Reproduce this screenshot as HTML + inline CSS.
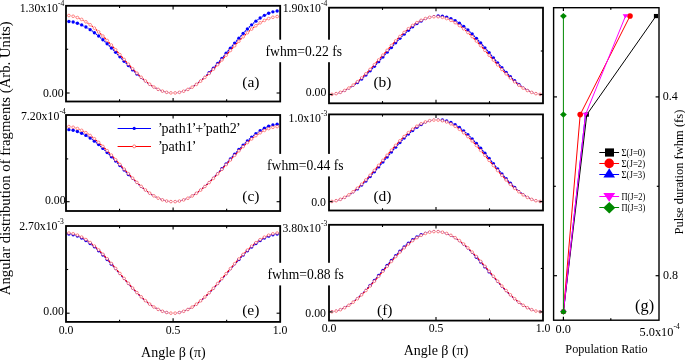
<!DOCTYPE html>
<html><head><meta charset="utf-8"><style>
html,body{margin:0;padding:0;background:#fff;width:685px;height:360px;overflow:hidden}
svg{display:block;font-family:"Liberation Serif",serif}
svg{will-change:transform}
</style></head><body>
<svg width="685" height="360" viewBox="0 0 685 360" font-family="Liberation Serif, serif" fill="#000">
<rect width="685" height="360" fill="#fff"/>
<g>
<path d="M70.93,21.74L71.12,21.77M75.13,22.61L75.42,22.69M79.31,23.98L79.74,24.15M83.48,25.82L84.07,26.12M87.65,28.12L88.40,28.58M91.82,30.84L92.73,31.49M96.00,33.96L97.05,34.79M100.19,37.42L101.36,38.44M104.39,41.20L105.66,42.38M108.61,45.22L109.94,46.54M112.83,49.45L114.22,50.86M117.07,53.81L118.48,55.28M121.32,58.24L122.73,59.73M125.58,62.68L126.97,64.13M129.85,67.06L131.20,68.42M134.13,71.30L135.42,72.54M138.42,75.33L139.63,76.42M142.73,79.10L143.82,80.01M147.05,82.53L148.00,83.24M151.38,85.56L152.17,86.07M155.71,88.13L156.34,88.46M160.05,90.19L160.50,90.37M164.38,91.69L164.67,91.77M168.68,92.61L168.87,92.63M172.95,92.93L173.10,92.93M177.18,92.65L177.37,92.62M181.37,91.79L181.68,91.71M185.54,90.37L186.01,90.17M189.70,88.39L190.35,88.03M193.85,85.89L194.70,85.32M198.01,82.89L199.04,82.07M202.17,79.43L203.38,78.35M206.36,75.53L207.69,74.21M210.55,71.27L212.00,69.72M214.76,66.68L216.29,64.95M218.98,61.85L220.57,59.98M223.21,56.84L224.84,54.89M227.46,51.73L229.09,49.75M231.71,46.60L233.34,44.66M235.98,41.53L237.57,39.69M240.27,36.60L241.78,34.91M244.56,31.90L245.99,30.42M248.88,27.51L250.17,26.26M253.20,23.50L254.35,22.51M257.54,19.94L258.51,19.22M261.89,16.91L262.66,16.43M266.25,14.45L266.80,14.18M270.59,12.63L270.96,12.51M274.91,11.47L275.14,11.43" fill="none" stroke="#00f" stroke-width="1.2"/>
<circle cx="68.90" cy="21.44" r="1.7" fill="#00f"/>
<circle cx="73.15" cy="22.07" r="1.7" fill="#00f"/>
<circle cx="77.40" cy="23.23" r="1.7" fill="#00f"/>
<circle cx="81.65" cy="24.90" r="1.7" fill="#00f"/>
<circle cx="85.90" cy="27.05" r="1.7" fill="#00f"/>
<circle cx="90.15" cy="29.66" r="1.7" fill="#00f"/>
<circle cx="94.40" cy="32.68" r="1.7" fill="#00f"/>
<circle cx="98.65" cy="36.07" r="1.7" fill="#00f"/>
<circle cx="102.90" cy="39.79" r="1.7" fill="#00f"/>
<circle cx="107.15" cy="43.78" r="1.7" fill="#00f"/>
<circle cx="111.40" cy="47.98" r="1.7" fill="#00f"/>
<circle cx="115.65" cy="52.33" r="1.7" fill="#00f"/>
<circle cx="119.90" cy="56.76" r="1.7" fill="#00f"/>
<circle cx="124.15" cy="61.21" r="1.7" fill="#00f"/>
<circle cx="128.40" cy="65.60" r="1.7" fill="#00f"/>
<circle cx="132.65" cy="69.88" r="1.7" fill="#00f"/>
<circle cx="136.90" cy="73.96" r="1.7" fill="#00f"/>
<circle cx="141.15" cy="77.80" r="1.15" fill="#00f"/>
<circle cx="145.40" cy="81.31" r="1.15" fill="#00f"/>
<circle cx="149.65" cy="84.46" r="1.15" fill="#00f"/>
<circle cx="153.90" cy="87.17" r="1.15" fill="#00f"/>
<circle cx="158.15" cy="89.42" r="1.15" fill="#00f"/>
<circle cx="162.40" cy="91.14" r="1.15" fill="#00f"/>
<circle cx="166.65" cy="92.32" r="1.15" fill="#00f"/>
<circle cx="170.90" cy="92.92" r="1.15" fill="#00f"/>
<circle cx="175.15" cy="92.93" r="1.15" fill="#00f"/>
<circle cx="179.40" cy="92.34" r="1.15" fill="#00f"/>
<circle cx="183.65" cy="91.15" r="1.15" fill="#00f"/>
<circle cx="187.90" cy="89.38" r="1.15" fill="#00f"/>
<circle cx="192.15" cy="87.04" r="1.15" fill="#00f"/>
<circle cx="196.40" cy="84.17" r="1.15" fill="#00f"/>
<circle cx="200.65" cy="80.80" r="1.15" fill="#00f"/>
<circle cx="204.90" cy="76.98" r="1.15" fill="#00f"/>
<circle cx="209.15" cy="72.76" r="1.7" fill="#00f"/>
<circle cx="213.40" cy="68.22" r="1.7" fill="#00f"/>
<circle cx="217.65" cy="63.41" r="1.7" fill="#00f"/>
<circle cx="221.90" cy="58.42" r="1.7" fill="#00f"/>
<circle cx="226.15" cy="53.31" r="1.7" fill="#00f"/>
<circle cx="230.40" cy="48.17" r="1.7" fill="#00f"/>
<circle cx="234.65" cy="43.09" r="1.7" fill="#00f"/>
<circle cx="238.90" cy="38.13" r="1.7" fill="#00f"/>
<circle cx="243.15" cy="33.39" r="1.7" fill="#00f"/>
<circle cx="247.40" cy="28.93" r="1.7" fill="#00f"/>
<circle cx="251.65" cy="24.84" r="1.7" fill="#00f"/>
<circle cx="255.90" cy="21.17" r="1.7" fill="#00f"/>
<circle cx="260.15" cy="17.99" r="1.7" fill="#00f"/>
<circle cx="264.40" cy="15.35" r="1.7" fill="#00f"/>
<circle cx="268.65" cy="13.29" r="1.7" fill="#00f"/>
<circle cx="272.90" cy="11.85" r="1.7" fill="#00f"/>
<circle cx="277.15" cy="11.05" r="1.7" fill="#00f"/>
<path d="M70.95,15.88L71.10,15.90M75.14,16.86L75.41,16.94M79.30,18.39L79.75,18.59M83.46,20.45L84.09,20.81M87.61,23.02L88.44,23.58M91.78,26.05L92.77,26.84M95.95,29.52L97.10,30.53M100.14,33.36L101.41,34.59M104.34,37.54L105.71,38.96M108.56,41.98L109.99,43.54M112.78,46.63L114.27,48.29M117.02,51.40L118.53,53.11M121.28,56.23L122.77,57.93M125.54,61.04L127.01,62.68M129.81,65.76L131.24,67.29M134.10,70.30L135.45,71.68M138.40,74.60L139.65,75.79M142.72,78.59L143.83,79.56M147.05,82.20L148.00,82.94M151.38,85.36L152.17,85.88M155.73,88.03L156.32,88.35M160.07,90.15L160.48,90.32M164.40,91.68L164.65,91.75M168.71,92.61L168.84,92.63M172.98,92.92L173.07,92.93M177.21,92.65L177.34,92.63M181.40,91.79L181.65,91.72M185.57,90.38L185.98,90.22M189.73,88.44L190.32,88.13M193.89,86.01L194.66,85.50M198.05,83.10L199.00,82.38M202.23,79.76L203.32,78.81M206.41,76.03L207.64,74.87M210.61,71.97L211.94,70.63M214.82,67.63L216.23,66.14M219.05,63.08L220.50,61.49M223.29,58.40L224.76,56.74M227.53,53.64L229.02,51.98M231.80,48.88L233.25,47.27M236.07,44.21L237.48,42.69M240.35,39.69L241.70,38.31M244.65,35.39L245.90,34.20M248.96,31.39L250.09,30.40M253.29,27.75L254.26,26.98M257.62,24.53L258.43,23.99M261.96,21.80L262.59,21.45M266.31,19.60L266.74,19.41M270.64,17.97L270.91,17.88M274.95,16.93L275.10,16.90" fill="none" stroke="#f00" stroke-width="1.2"/>
<circle cx="68.90" cy="15.53" r="1.35" fill="#fff" stroke="#f00" stroke-width="0.45"/>
<circle cx="73.15" cy="16.25" r="1.35" fill="#fff" stroke="#f00" stroke-width="0.45"/>
<circle cx="77.40" cy="17.55" r="1.35" fill="#fff" stroke="#f00" stroke-width="0.45"/>
<circle cx="81.65" cy="19.42" r="1.35" fill="#fff" stroke="#f00" stroke-width="0.45"/>
<circle cx="85.90" cy="21.84" r="1.35" fill="#fff" stroke="#f00" stroke-width="0.45"/>
<circle cx="90.15" cy="24.76" r="1.35" fill="#fff" stroke="#f00" stroke-width="0.45"/>
<circle cx="94.40" cy="28.13" r="1.35" fill="#fff" stroke="#f00" stroke-width="0.45"/>
<circle cx="98.65" cy="31.92" r="1.35" fill="#fff" stroke="#f00" stroke-width="0.45"/>
<circle cx="102.90" cy="36.04" r="1.35" fill="#fff" stroke="#f00" stroke-width="0.45"/>
<circle cx="107.15" cy="40.45" r="1.35" fill="#fff" stroke="#f00" stroke-width="0.45"/>
<circle cx="111.40" cy="45.08" r="1.35" fill="#fff" stroke="#f00" stroke-width="0.45"/>
<circle cx="115.65" cy="49.84" r="1.35" fill="#fff" stroke="#f00" stroke-width="0.45"/>
<circle cx="119.90" cy="54.67" r="1.35" fill="#fff" stroke="#f00" stroke-width="0.45"/>
<circle cx="124.15" cy="59.49" r="1.35" fill="#fff" stroke="#f00" stroke-width="0.45"/>
<circle cx="128.40" cy="64.23" r="1.35" fill="#fff" stroke="#f00" stroke-width="0.45"/>
<circle cx="132.65" cy="68.81" r="1.35" fill="#fff" stroke="#f00" stroke-width="0.45"/>
<circle cx="136.90" cy="73.17" r="1.35" fill="#fff" stroke="#f00" stroke-width="0.45"/>
<circle cx="141.15" cy="77.23" r="1.35" fill="#fff" stroke="#f00" stroke-width="0.45"/>
<circle cx="145.40" cy="80.93" r="1.35" fill="#fff" stroke="#f00" stroke-width="0.45"/>
<circle cx="149.65" cy="84.21" r="1.35" fill="#fff" stroke="#f00" stroke-width="0.45"/>
<circle cx="153.90" cy="87.04" r="1.35" fill="#fff" stroke="#f00" stroke-width="0.45"/>
<circle cx="158.15" cy="89.35" r="1.35" fill="#fff" stroke="#f00" stroke-width="0.45"/>
<circle cx="162.40" cy="91.11" r="1.35" fill="#fff" stroke="#f00" stroke-width="0.45"/>
<circle cx="166.65" cy="92.31" r="1.35" fill="#fff" stroke="#f00" stroke-width="0.45"/>
<circle cx="170.90" cy="92.92" r="1.35" fill="#fff" stroke="#f00" stroke-width="0.45"/>
<circle cx="175.15" cy="92.93" r="1.35" fill="#fff" stroke="#f00" stroke-width="0.45"/>
<circle cx="179.40" cy="92.34" r="1.35" fill="#fff" stroke="#f00" stroke-width="0.45"/>
<circle cx="183.65" cy="91.17" r="1.35" fill="#fff" stroke="#f00" stroke-width="0.45"/>
<circle cx="187.90" cy="89.43" r="1.35" fill="#fff" stroke="#f00" stroke-width="0.45"/>
<circle cx="192.15" cy="87.15" r="1.35" fill="#fff" stroke="#f00" stroke-width="0.45"/>
<circle cx="196.40" cy="84.36" r="1.35" fill="#fff" stroke="#f00" stroke-width="0.45"/>
<circle cx="200.65" cy="81.11" r="1.35" fill="#fff" stroke="#f00" stroke-width="0.45"/>
<circle cx="204.90" cy="77.46" r="1.35" fill="#fff" stroke="#f00" stroke-width="0.45"/>
<circle cx="209.15" cy="73.45" r="1.35" fill="#fff" stroke="#f00" stroke-width="0.45"/>
<circle cx="213.40" cy="69.15" r="1.35" fill="#fff" stroke="#f00" stroke-width="0.45"/>
<circle cx="217.65" cy="64.62" r="1.35" fill="#fff" stroke="#f00" stroke-width="0.45"/>
<circle cx="221.90" cy="59.95" r="1.35" fill="#fff" stroke="#f00" stroke-width="0.45"/>
<circle cx="226.15" cy="55.19" r="1.35" fill="#fff" stroke="#f00" stroke-width="0.45"/>
<circle cx="230.40" cy="50.43" r="1.35" fill="#fff" stroke="#f00" stroke-width="0.45"/>
<circle cx="234.65" cy="45.73" r="1.35" fill="#fff" stroke="#f00" stroke-width="0.45"/>
<circle cx="238.90" cy="41.17" r="1.35" fill="#fff" stroke="#f00" stroke-width="0.45"/>
<circle cx="243.15" cy="36.83" r="1.35" fill="#fff" stroke="#f00" stroke-width="0.45"/>
<circle cx="247.40" cy="32.76" r="1.35" fill="#fff" stroke="#f00" stroke-width="0.45"/>
<circle cx="251.65" cy="29.03" r="1.35" fill="#fff" stroke="#f00" stroke-width="0.45"/>
<circle cx="255.90" cy="25.70" r="1.35" fill="#fff" stroke="#f00" stroke-width="0.45"/>
<circle cx="260.15" cy="22.82" r="1.35" fill="#fff" stroke="#f00" stroke-width="0.45"/>
<circle cx="264.40" cy="20.43" r="1.35" fill="#fff" stroke="#f00" stroke-width="0.45"/>
<circle cx="268.65" cy="18.57" r="1.35" fill="#fff" stroke="#f00" stroke-width="0.45"/>
<circle cx="272.90" cy="17.28" r="1.35" fill="#fff" stroke="#f00" stroke-width="0.45"/>
<circle cx="277.15" cy="16.56" r="1.35" fill="#fff" stroke="#f00" stroke-width="0.45"/>
</g>
<rect x="66" y="5.8" width="214.2" height="95.70" fill="none" stroke="#000" stroke-width="1.8"/>
<line x1="119.55" y1="5.8" x2="119.55" y2="8.0" stroke="#000" stroke-width="1.1"/>
<line x1="119.55" y1="101.5" x2="119.55" y2="99.3" stroke="#000" stroke-width="1.1"/>
<line x1="173.10" y1="5.8" x2="173.10" y2="9.4" stroke="#000" stroke-width="1.1"/>
<line x1="173.10" y1="101.5" x2="173.10" y2="97.9" stroke="#000" stroke-width="1.1"/>
<line x1="226.65" y1="5.8" x2="226.65" y2="8.0" stroke="#000" stroke-width="1.1"/>
<line x1="226.65" y1="101.5" x2="226.65" y2="99.3" stroke="#000" stroke-width="1.1"/>
<line x1="66" y1="93.00" x2="69.6" y2="93.00" stroke="#000" stroke-width="1.1"/>
<line x1="280.2" y1="93.00" x2="276.59999999999997" y2="93.00" stroke="#000" stroke-width="1.1"/>
<line x1="66" y1="49.25" x2="68.2" y2="49.25" stroke="#000" stroke-width="1.1"/>
<line x1="280.2" y1="49.25" x2="278.0" y2="49.25" stroke="#000" stroke-width="1.1"/>
<g>
<path d="M70.93,129.97L71.12,130.00M75.12,130.86L75.43,130.95M79.30,132.26L79.75,132.44M83.47,134.14L84.08,134.46M87.64,136.49L88.41,136.98M91.81,139.27L92.74,139.95M95.99,142.45L97.06,143.32M100.18,145.98L101.37,147.04M104.38,149.81L105.67,151.04M108.60,153.90L109.95,155.26M112.82,158.19L114.23,159.64M117.06,162.60L118.49,164.10M121.31,167.07L122.74,168.58M125.57,171.54L126.98,173.01M129.84,175.94L131.21,177.31M134.13,180.19L135.42,181.43M138.42,184.22L139.63,185.30M142.73,187.98L143.82,188.87M147.05,191.38L148.00,192.08M151.38,194.38L152.17,194.88M155.72,196.92L156.33,197.24M160.05,198.94L160.50,199.12M164.38,200.42L164.67,200.50M168.68,201.32L168.87,201.34M172.95,201.63L173.10,201.63M177.18,201.36L177.37,201.33M181.38,200.53L181.67,200.45M185.55,199.14L186.00,198.96M189.71,197.24L190.34,196.91M193.87,194.83L194.68,194.30M198.03,191.95L199.02,191.20M202.21,188.62L203.34,187.64M206.39,184.90L207.66,183.70M210.59,180.83L211.96,179.43M214.80,176.47L216.25,174.91M219.02,171.88L220.53,170.20M223.26,167.14L224.79,165.39M227.50,162.31L229.05,160.55M231.76,157.48L233.29,155.75M236.03,152.70L237.52,151.08M240.32,148.08L241.73,146.59M244.61,143.67L245.94,142.37M248.92,139.56L250.13,138.47M253.25,135.81L254.30,134.95M257.58,132.49L258.47,131.87M261.92,129.67L262.63,129.26M266.27,127.39L266.78,127.15M270.60,125.69L270.95,125.59M274.92,124.61L275.13,124.58" fill="none" stroke="#00f" stroke-width="1.2"/>
<circle cx="68.90" cy="129.66" r="1.7" fill="#00f"/>
<circle cx="73.15" cy="130.31" r="1.7" fill="#00f"/>
<circle cx="77.40" cy="131.50" r="1.7" fill="#00f"/>
<circle cx="81.65" cy="133.20" r="1.7" fill="#00f"/>
<circle cx="85.90" cy="135.40" r="1.7" fill="#00f"/>
<circle cx="90.15" cy="138.07" r="1.7" fill="#00f"/>
<circle cx="94.40" cy="141.15" r="1.7" fill="#00f"/>
<circle cx="98.65" cy="144.61" r="1.7" fill="#00f"/>
<circle cx="102.90" cy="148.40" r="1.7" fill="#00f"/>
<circle cx="107.15" cy="152.45" r="1.7" fill="#00f"/>
<circle cx="111.40" cy="156.71" r="1.7" fill="#00f"/>
<circle cx="115.65" cy="161.11" r="1.7" fill="#00f"/>
<circle cx="119.90" cy="165.59" r="1.7" fill="#00f"/>
<circle cx="124.15" cy="170.07" r="1.7" fill="#00f"/>
<circle cx="128.40" cy="174.48" r="1.7" fill="#00f"/>
<circle cx="132.65" cy="178.77" r="1.15" fill="#00f"/>
<circle cx="136.90" cy="182.85" r="1.15" fill="#00f"/>
<circle cx="141.15" cy="186.67" r="1.15" fill="#00f"/>
<circle cx="145.40" cy="190.17" r="1.15" fill="#00f"/>
<circle cx="149.65" cy="193.29" r="1.15" fill="#00f"/>
<circle cx="153.90" cy="195.97" r="1.15" fill="#00f"/>
<circle cx="158.15" cy="198.18" r="1.15" fill="#00f"/>
<circle cx="162.40" cy="199.88" r="1.15" fill="#00f"/>
<circle cx="166.65" cy="201.03" r="1.15" fill="#00f"/>
<circle cx="170.90" cy="201.62" r="1.15" fill="#00f"/>
<circle cx="175.15" cy="201.63" r="1.15" fill="#00f"/>
<circle cx="179.40" cy="201.06" r="1.15" fill="#00f"/>
<circle cx="183.65" cy="199.91" r="1.15" fill="#00f"/>
<circle cx="187.90" cy="198.20" r="1.15" fill="#00f"/>
<circle cx="192.15" cy="195.95" r="1.15" fill="#00f"/>
<circle cx="196.40" cy="193.19" r="1.15" fill="#00f"/>
<circle cx="200.65" cy="189.96" r="1.15" fill="#00f"/>
<circle cx="204.90" cy="186.31" r="1.15" fill="#00f"/>
<circle cx="209.15" cy="182.29" r="1.15" fill="#00f"/>
<circle cx="213.40" cy="177.97" r="1.15" fill="#00f"/>
<circle cx="217.65" cy="173.41" r="1.15" fill="#00f"/>
<circle cx="221.90" cy="168.68" r="1.7" fill="#00f"/>
<circle cx="226.15" cy="163.85" r="1.7" fill="#00f"/>
<circle cx="230.40" cy="159.01" r="1.7" fill="#00f"/>
<circle cx="234.65" cy="154.22" r="1.7" fill="#00f"/>
<circle cx="238.90" cy="149.56" r="1.7" fill="#00f"/>
<circle cx="243.15" cy="145.11" r="1.7" fill="#00f"/>
<circle cx="247.40" cy="140.93" r="1.7" fill="#00f"/>
<circle cx="251.65" cy="137.10" r="1.7" fill="#00f"/>
<circle cx="255.90" cy="133.67" r="1.7" fill="#00f"/>
<circle cx="260.15" cy="130.70" r="1.7" fill="#00f"/>
<circle cx="264.40" cy="128.23" r="1.7" fill="#00f"/>
<circle cx="268.65" cy="126.31" r="1.7" fill="#00f"/>
<circle cx="272.90" cy="124.97" r="1.7" fill="#00f"/>
<circle cx="277.15" cy="124.22" r="1.7" fill="#00f"/>
<path d="M70.95,126.91L71.10,126.94M75.14,127.86L75.41,127.94M79.31,129.34L79.74,129.52M83.47,131.34L84.08,131.67M87.63,133.82L88.42,134.35M91.80,136.76L92.75,137.50M95.98,140.12L97.07,141.06M100.17,143.85L101.38,144.99M104.37,147.89L105.68,149.21M108.58,152.19L109.97,153.65M112.81,156.69L114.24,158.25M117.05,161.32L118.50,162.92M121.30,166.00L122.75,167.59M125.56,170.66L126.99,172.20M129.84,175.23L131.21,176.67M134.12,179.64L135.43,180.94M138.42,183.82L139.63,184.93M142.74,187.69L143.81,188.60M147.06,191.20L147.99,191.89M151.40,194.27L152.15,194.76M155.74,196.86L156.31,197.17M160.08,198.92L160.47,199.08M164.41,200.41L164.64,200.48M168.71,201.32L168.84,201.33M172.98,201.63L173.07,201.63M177.21,201.35L177.34,201.34M181.41,200.52L181.64,200.45M185.58,199.14L185.97,198.98M189.74,197.24L190.31,196.94M193.90,194.85L194.65,194.37M198.07,192.00L198.98,191.31M202.24,188.73L203.31,187.82M206.43,185.07L207.62,183.96M210.63,181.08L211.92,179.80M214.84,176.83L216.21,175.39M219.06,172.36L220.49,170.82M223.30,167.76L224.75,166.16M227.55,163.08L229.00,161.48M231.81,158.41L233.24,156.85M236.08,153.81L237.47,152.35M240.37,149.36L241.68,148.04M244.66,145.14L245.89,143.98M248.97,141.20L250.08,140.24M253.30,137.61L254.25,136.88M257.63,134.45L258.42,133.92M261.97,131.76L262.58,131.42M266.31,129.59L266.74,129.41M270.64,127.98L270.91,127.90M274.95,126.96L275.10,126.94" fill="none" stroke="#f00" stroke-width="1.2"/>
<circle cx="68.90" cy="126.58" r="1.35" fill="#fff" stroke="#f00" stroke-width="0.45"/>
<circle cx="73.15" cy="127.27" r="1.35" fill="#fff" stroke="#f00" stroke-width="0.45"/>
<circle cx="77.40" cy="128.53" r="1.35" fill="#fff" stroke="#f00" stroke-width="0.45"/>
<circle cx="81.65" cy="130.34" r="1.35" fill="#fff" stroke="#f00" stroke-width="0.45"/>
<circle cx="85.90" cy="132.67" r="1.35" fill="#fff" stroke="#f00" stroke-width="0.45"/>
<circle cx="90.15" cy="135.50" r="1.35" fill="#fff" stroke="#f00" stroke-width="0.45"/>
<circle cx="94.40" cy="138.76" r="1.35" fill="#fff" stroke="#f00" stroke-width="0.45"/>
<circle cx="98.65" cy="142.42" r="1.35" fill="#fff" stroke="#f00" stroke-width="0.45"/>
<circle cx="102.90" cy="146.42" r="1.35" fill="#fff" stroke="#f00" stroke-width="0.45"/>
<circle cx="107.15" cy="150.68" r="1.35" fill="#fff" stroke="#f00" stroke-width="0.45"/>
<circle cx="111.40" cy="155.16" r="1.35" fill="#fff" stroke="#f00" stroke-width="0.45"/>
<circle cx="115.65" cy="159.78" r="1.35" fill="#fff" stroke="#f00" stroke-width="0.45"/>
<circle cx="119.90" cy="164.46" r="1.35" fill="#fff" stroke="#f00" stroke-width="0.45"/>
<circle cx="124.15" cy="169.13" r="1.35" fill="#fff" stroke="#f00" stroke-width="0.45"/>
<circle cx="128.40" cy="173.73" r="1.35" fill="#fff" stroke="#f00" stroke-width="0.45"/>
<circle cx="132.65" cy="178.18" r="1.35" fill="#fff" stroke="#f00" stroke-width="0.45"/>
<circle cx="136.90" cy="182.41" r="1.35" fill="#fff" stroke="#f00" stroke-width="0.45"/>
<circle cx="141.15" cy="186.35" r="1.35" fill="#fff" stroke="#f00" stroke-width="0.45"/>
<circle cx="145.40" cy="189.95" r="1.35" fill="#fff" stroke="#f00" stroke-width="0.45"/>
<circle cx="149.65" cy="193.14" r="1.35" fill="#fff" stroke="#f00" stroke-width="0.45"/>
<circle cx="153.90" cy="195.89" r="1.35" fill="#fff" stroke="#f00" stroke-width="0.45"/>
<circle cx="158.15" cy="198.14" r="1.35" fill="#fff" stroke="#f00" stroke-width="0.45"/>
<circle cx="162.40" cy="199.86" r="1.35" fill="#fff" stroke="#f00" stroke-width="0.45"/>
<circle cx="166.65" cy="201.03" r="1.35" fill="#fff" stroke="#f00" stroke-width="0.45"/>
<circle cx="170.90" cy="201.62" r="1.35" fill="#fff" stroke="#f00" stroke-width="0.45"/>
<circle cx="175.15" cy="201.63" r="1.35" fill="#fff" stroke="#f00" stroke-width="0.45"/>
<circle cx="179.40" cy="201.06" r="1.35" fill="#fff" stroke="#f00" stroke-width="0.45"/>
<circle cx="183.65" cy="199.91" r="1.35" fill="#fff" stroke="#f00" stroke-width="0.45"/>
<circle cx="187.90" cy="198.21" r="1.35" fill="#fff" stroke="#f00" stroke-width="0.45"/>
<circle cx="192.15" cy="195.98" r="1.35" fill="#fff" stroke="#f00" stroke-width="0.45"/>
<circle cx="196.40" cy="193.25" r="1.35" fill="#fff" stroke="#f00" stroke-width="0.45"/>
<circle cx="200.65" cy="190.07" r="1.35" fill="#fff" stroke="#f00" stroke-width="0.45"/>
<circle cx="204.90" cy="186.48" r="1.35" fill="#fff" stroke="#f00" stroke-width="0.45"/>
<circle cx="209.15" cy="182.55" r="1.35" fill="#fff" stroke="#f00" stroke-width="0.45"/>
<circle cx="213.40" cy="178.33" r="1.35" fill="#fff" stroke="#f00" stroke-width="0.45"/>
<circle cx="217.65" cy="173.89" r="1.35" fill="#fff" stroke="#f00" stroke-width="0.45"/>
<circle cx="221.90" cy="169.30" r="1.35" fill="#fff" stroke="#f00" stroke-width="0.45"/>
<circle cx="226.15" cy="164.62" r="1.35" fill="#fff" stroke="#f00" stroke-width="0.45"/>
<circle cx="230.40" cy="159.94" r="1.35" fill="#fff" stroke="#f00" stroke-width="0.45"/>
<circle cx="234.65" cy="155.32" r="1.35" fill="#fff" stroke="#f00" stroke-width="0.45"/>
<circle cx="238.90" cy="150.84" r="1.35" fill="#fff" stroke="#f00" stroke-width="0.45"/>
<circle cx="243.15" cy="146.56" r="1.35" fill="#fff" stroke="#f00" stroke-width="0.45"/>
<circle cx="247.40" cy="142.56" r="1.35" fill="#fff" stroke="#f00" stroke-width="0.45"/>
<circle cx="251.65" cy="138.89" r="1.35" fill="#fff" stroke="#f00" stroke-width="0.45"/>
<circle cx="255.90" cy="135.60" r="1.35" fill="#fff" stroke="#f00" stroke-width="0.45"/>
<circle cx="260.15" cy="132.77" r="1.35" fill="#fff" stroke="#f00" stroke-width="0.45"/>
<circle cx="264.40" cy="130.41" r="1.35" fill="#fff" stroke="#f00" stroke-width="0.45"/>
<circle cx="268.65" cy="128.58" r="1.35" fill="#fff" stroke="#f00" stroke-width="0.45"/>
<circle cx="272.90" cy="127.30" r="1.35" fill="#fff" stroke="#f00" stroke-width="0.45"/>
<circle cx="277.15" cy="126.59" r="1.35" fill="#fff" stroke="#f00" stroke-width="0.45"/>
</g>
<rect x="66" y="115" width="214.2" height="96.00" fill="none" stroke="#000" stroke-width="1.8"/>
<line x1="119.55" y1="115" x2="119.55" y2="117.2" stroke="#000" stroke-width="1.1"/>
<line x1="119.55" y1="211" x2="119.55" y2="208.8" stroke="#000" stroke-width="1.1"/>
<line x1="173.10" y1="115" x2="173.10" y2="118.6" stroke="#000" stroke-width="1.1"/>
<line x1="173.10" y1="211" x2="173.10" y2="207.4" stroke="#000" stroke-width="1.1"/>
<line x1="226.65" y1="115" x2="226.65" y2="117.2" stroke="#000" stroke-width="1.1"/>
<line x1="226.65" y1="211" x2="226.65" y2="208.8" stroke="#000" stroke-width="1.1"/>
<line x1="66" y1="201.70" x2="69.6" y2="201.70" stroke="#000" stroke-width="1.1"/>
<line x1="280.2" y1="201.70" x2="276.59999999999997" y2="201.70" stroke="#000" stroke-width="1.1"/>
<line x1="66" y1="158.90" x2="68.2" y2="158.90" stroke="#000" stroke-width="1.1"/>
<line x1="280.2" y1="158.90" x2="278.0" y2="158.90" stroke="#000" stroke-width="1.1"/>
<g>
<path d="M70.92,234.38L71.13,234.42M75.11,235.37L75.44,235.48M79.27,236.93L79.78,237.16M83.42,239.03L84.13,239.43M87.58,241.63L88.47,242.26M91.74,244.72L92.81,245.58M95.92,248.25L97.13,249.35M100.11,252.17L101.44,253.50M104.31,256.43L105.74,257.95M108.52,260.96L110.03,262.63M112.75,265.70L114.30,267.48M116.99,270.57L118.56,272.40M121.24,275.51L122.81,277.33M125.50,280.42L127.05,282.18M129.78,285.24L131.27,286.89M134.06,289.90L135.49,291.38M138.37,294.30L139.68,295.59M142.68,298.39L143.87,299.45M147.01,302.09L148.04,302.91M151.34,305.34L152.21,305.92M155.69,308.07L156.36,308.45M160.04,310.25L160.51,310.46M164.37,311.83L164.68,311.92M168.68,312.79L168.87,312.82M172.95,313.12L173.10,313.12M177.18,312.84L177.37,312.81M181.37,311.96L181.68,311.88M185.54,310.52L186.01,310.32M189.69,308.53L190.36,308.16M193.85,306.02L194.70,305.44M198.01,303.02L199.04,302.21M202.18,299.58L203.37,298.53M206.37,295.73L207.68,294.45M210.57,291.54L211.98,290.06M214.78,287.06L216.27,285.41M219.00,282.35L220.55,280.59M223.24,277.50L224.81,275.68M227.49,272.57L229.06,270.75M231.75,267.65L233.30,265.87M236.02,262.80L237.53,261.13M240.31,258.11L241.74,256.59M244.60,253.65L245.95,252.32M248.92,249.49L250.13,248.38M253.24,245.71L254.31,244.84M257.58,242.37L258.47,241.74M261.92,239.52L262.63,239.11M266.27,237.23L266.78,236.99M270.60,235.53L270.95,235.42M274.92,234.44L275.13,234.41" fill="none" stroke="#00f" stroke-width="1.2"/>
<circle cx="68.90" cy="234.04" r="1.7" fill="#00f"/>
<circle cx="73.15" cy="234.76" r="1.7" fill="#00f"/>
<circle cx="77.40" cy="236.09" r="1.7" fill="#00f"/>
<circle cx="81.65" cy="238.00" r="1.7" fill="#00f"/>
<circle cx="85.90" cy="240.46" r="1.7" fill="#00f"/>
<circle cx="90.15" cy="243.43" r="1.7" fill="#00f"/>
<circle cx="94.40" cy="246.87" r="1.7" fill="#00f"/>
<circle cx="98.65" cy="250.73" r="1.7" fill="#00f"/>
<circle cx="102.90" cy="254.94" r="1.7" fill="#00f"/>
<circle cx="107.15" cy="259.44" r="1.7" fill="#00f"/>
<circle cx="111.40" cy="264.16" r="1.7" fill="#00f"/>
<circle cx="115.65" cy="269.02" r="1.15" fill="#00f"/>
<circle cx="119.90" cy="273.95" r="1.15" fill="#00f"/>
<circle cx="124.15" cy="278.88" r="1.15" fill="#00f"/>
<circle cx="128.40" cy="283.73" r="1.15" fill="#00f"/>
<circle cx="132.65" cy="288.41" r="1.15" fill="#00f"/>
<circle cx="136.90" cy="292.87" r="1.15" fill="#00f"/>
<circle cx="141.15" cy="297.02" r="1.15" fill="#00f"/>
<circle cx="145.40" cy="300.81" r="1.15" fill="#00f"/>
<circle cx="149.65" cy="304.18" r="1.15" fill="#00f"/>
<circle cx="153.90" cy="307.08" r="1.15" fill="#00f"/>
<circle cx="158.15" cy="309.45" r="1.15" fill="#00f"/>
<circle cx="162.40" cy="311.26" r="1.15" fill="#00f"/>
<circle cx="166.65" cy="312.49" r="1.15" fill="#00f"/>
<circle cx="170.90" cy="313.12" r="1.15" fill="#00f"/>
<circle cx="175.15" cy="313.13" r="1.15" fill="#00f"/>
<circle cx="179.40" cy="312.52" r="1.15" fill="#00f"/>
<circle cx="183.65" cy="311.32" r="1.15" fill="#00f"/>
<circle cx="187.90" cy="309.52" r="1.15" fill="#00f"/>
<circle cx="192.15" cy="307.17" r="1.15" fill="#00f"/>
<circle cx="196.40" cy="304.29" r="1.15" fill="#00f"/>
<circle cx="200.65" cy="300.94" r="1.15" fill="#00f"/>
<circle cx="204.90" cy="297.16" r="1.15" fill="#00f"/>
<circle cx="209.15" cy="293.02" r="1.15" fill="#00f"/>
<circle cx="213.40" cy="288.57" r="1.15" fill="#00f"/>
<circle cx="217.65" cy="283.89" r="1.15" fill="#00f"/>
<circle cx="221.90" cy="279.05" r="1.15" fill="#00f"/>
<circle cx="226.15" cy="274.13" r="1.15" fill="#00f"/>
<circle cx="230.40" cy="269.19" r="1.15" fill="#00f"/>
<circle cx="234.65" cy="264.33" r="1.15" fill="#00f"/>
<circle cx="238.90" cy="259.60" r="1.7" fill="#00f"/>
<circle cx="243.15" cy="255.09" r="1.7" fill="#00f"/>
<circle cx="247.40" cy="250.87" r="1.7" fill="#00f"/>
<circle cx="251.65" cy="247.00" r="1.7" fill="#00f"/>
<circle cx="255.90" cy="243.55" r="1.7" fill="#00f"/>
<circle cx="260.15" cy="240.56" r="1.7" fill="#00f"/>
<circle cx="264.40" cy="238.08" r="1.7" fill="#00f"/>
<circle cx="268.65" cy="236.15" r="1.7" fill="#00f"/>
<circle cx="272.90" cy="234.80" r="1.7" fill="#00f"/>
<circle cx="277.15" cy="234.05" r="1.7" fill="#00f"/>
<path d="M70.95,233.42L71.10,233.45M75.13,234.43L75.42,234.52M79.29,236.01L79.76,236.22M83.44,238.13L84.11,238.52M87.60,240.77L88.45,241.38M91.76,243.90L92.79,244.74M95.93,247.47L97.12,248.56M100.12,251.44L101.43,252.75M104.32,255.75L105.73,257.26M108.53,260.33L110.02,262.00M112.76,265.13L114.29,266.90M117.00,270.06L118.55,271.89M121.25,275.06L122.80,276.88M125.51,280.03L127.04,281.79M129.79,284.91L131.26,286.56M134.08,289.62L135.47,291.10M138.38,294.08L139.67,295.36M142.69,298.22L143.86,299.27M147.02,301.96L148.03,302.77M151.36,305.25L152.19,305.82M155.71,308.02L156.34,308.38M160.06,310.23L160.49,310.41M164.40,311.82L164.65,311.90M168.71,312.79L168.84,312.81M172.98,313.12L173.07,313.12M177.21,312.83L177.34,312.81M181.40,311.94L181.65,311.87M185.56,310.48L185.99,310.29M189.71,308.46L190.34,308.11M193.87,305.92L194.68,305.36M198.03,302.89L199.02,302.09M202.20,299.40L203.35,298.36M206.38,295.51L207.67,294.23M210.58,291.26L211.97,289.78M214.79,286.72L216.26,285.08M219.01,281.96L220.54,280.21M223.25,277.05L224.80,275.23M227.50,272.07L229.05,270.24M231.76,267.08L233.29,265.30M236.03,262.17L237.52,260.50M240.32,257.42L241.73,255.91M244.62,252.91L245.93,251.58M248.93,248.70L250.12,247.60M253.26,244.87L254.29,244.02M257.59,241.49L258.46,240.87M261.94,238.61L262.61,238.21M266.29,236.29L266.76,236.07M270.63,234.57L270.92,234.47M274.95,233.47L275.10,233.45" fill="none" stroke="#f00" stroke-width="1.2"/>
<circle cx="68.90" cy="233.07" r="1.35" fill="#fff" stroke="#f00" stroke-width="0.45"/>
<circle cx="73.15" cy="233.80" r="1.35" fill="#fff" stroke="#f00" stroke-width="0.45"/>
<circle cx="77.40" cy="235.14" r="1.35" fill="#fff" stroke="#f00" stroke-width="0.45"/>
<circle cx="81.65" cy="237.08" r="1.35" fill="#fff" stroke="#f00" stroke-width="0.45"/>
<circle cx="85.90" cy="239.57" r="1.35" fill="#fff" stroke="#f00" stroke-width="0.45"/>
<circle cx="90.15" cy="242.58" r="1.35" fill="#fff" stroke="#f00" stroke-width="0.45"/>
<circle cx="94.40" cy="246.06" r="1.35" fill="#fff" stroke="#f00" stroke-width="0.45"/>
<circle cx="98.65" cy="249.97" r="1.35" fill="#fff" stroke="#f00" stroke-width="0.45"/>
<circle cx="102.90" cy="254.23" r="1.35" fill="#fff" stroke="#f00" stroke-width="0.45"/>
<circle cx="107.15" cy="258.78" r="1.35" fill="#fff" stroke="#f00" stroke-width="0.45"/>
<circle cx="111.40" cy="263.56" r="1.35" fill="#fff" stroke="#f00" stroke-width="0.45"/>
<circle cx="115.65" cy="268.48" r="1.35" fill="#fff" stroke="#f00" stroke-width="0.45"/>
<circle cx="119.90" cy="273.47" r="1.35" fill="#fff" stroke="#f00" stroke-width="0.45"/>
<circle cx="124.15" cy="278.46" r="1.35" fill="#fff" stroke="#f00" stroke-width="0.45"/>
<circle cx="128.40" cy="283.36" r="1.35" fill="#fff" stroke="#f00" stroke-width="0.45"/>
<circle cx="132.65" cy="288.11" r="1.35" fill="#fff" stroke="#f00" stroke-width="0.45"/>
<circle cx="136.90" cy="292.62" r="1.35" fill="#fff" stroke="#f00" stroke-width="0.45"/>
<circle cx="141.15" cy="296.83" r="1.35" fill="#fff" stroke="#f00" stroke-width="0.45"/>
<circle cx="145.40" cy="300.66" r="1.35" fill="#fff" stroke="#f00" stroke-width="0.45"/>
<circle cx="149.65" cy="304.07" r="1.35" fill="#fff" stroke="#f00" stroke-width="0.45"/>
<circle cx="153.90" cy="307.00" r="1.35" fill="#fff" stroke="#f00" stroke-width="0.45"/>
<circle cx="158.15" cy="309.40" r="1.35" fill="#fff" stroke="#f00" stroke-width="0.45"/>
<circle cx="162.40" cy="311.24" r="1.35" fill="#fff" stroke="#f00" stroke-width="0.45"/>
<circle cx="166.65" cy="312.48" r="1.35" fill="#fff" stroke="#f00" stroke-width="0.45"/>
<circle cx="170.90" cy="313.12" r="1.35" fill="#fff" stroke="#f00" stroke-width="0.45"/>
<circle cx="175.15" cy="313.13" r="1.35" fill="#fff" stroke="#f00" stroke-width="0.45"/>
<circle cx="179.40" cy="312.52" r="1.35" fill="#fff" stroke="#f00" stroke-width="0.45"/>
<circle cx="183.65" cy="311.29" r="1.35" fill="#fff" stroke="#f00" stroke-width="0.45"/>
<circle cx="187.90" cy="309.48" r="1.35" fill="#fff" stroke="#f00" stroke-width="0.45"/>
<circle cx="192.15" cy="307.09" r="1.35" fill="#fff" stroke="#f00" stroke-width="0.45"/>
<circle cx="196.40" cy="304.18" r="1.35" fill="#fff" stroke="#f00" stroke-width="0.45"/>
<circle cx="200.65" cy="300.79" r="1.35" fill="#fff" stroke="#f00" stroke-width="0.45"/>
<circle cx="204.90" cy="296.97" r="1.35" fill="#fff" stroke="#f00" stroke-width="0.45"/>
<circle cx="209.15" cy="292.77" r="1.35" fill="#fff" stroke="#f00" stroke-width="0.45"/>
<circle cx="213.40" cy="288.27" r="1.35" fill="#fff" stroke="#f00" stroke-width="0.45"/>
<circle cx="217.65" cy="283.53" r="1.35" fill="#fff" stroke="#f00" stroke-width="0.45"/>
<circle cx="221.90" cy="278.64" r="1.35" fill="#fff" stroke="#f00" stroke-width="0.45"/>
<circle cx="226.15" cy="273.65" r="1.35" fill="#fff" stroke="#f00" stroke-width="0.45"/>
<circle cx="230.40" cy="268.65" r="1.35" fill="#fff" stroke="#f00" stroke-width="0.45"/>
<circle cx="234.65" cy="263.73" r="1.35" fill="#fff" stroke="#f00" stroke-width="0.45"/>
<circle cx="238.90" cy="258.95" r="1.35" fill="#fff" stroke="#f00" stroke-width="0.45"/>
<circle cx="243.15" cy="254.38" r="1.35" fill="#fff" stroke="#f00" stroke-width="0.45"/>
<circle cx="247.40" cy="250.11" r="1.35" fill="#fff" stroke="#f00" stroke-width="0.45"/>
<circle cx="251.65" cy="246.19" r="1.35" fill="#fff" stroke="#f00" stroke-width="0.45"/>
<circle cx="255.90" cy="242.69" r="1.35" fill="#fff" stroke="#f00" stroke-width="0.45"/>
<circle cx="260.15" cy="239.67" r="1.35" fill="#fff" stroke="#f00" stroke-width="0.45"/>
<circle cx="264.40" cy="237.16" r="1.35" fill="#fff" stroke="#f00" stroke-width="0.45"/>
<circle cx="268.65" cy="235.20" r="1.35" fill="#fff" stroke="#f00" stroke-width="0.45"/>
<circle cx="272.90" cy="233.84" r="1.35" fill="#fff" stroke="#f00" stroke-width="0.45"/>
<circle cx="277.15" cy="233.08" r="1.35" fill="#fff" stroke="#f00" stroke-width="0.45"/>
</g>
<rect x="66" y="226" width="214.2" height="95.90" fill="none" stroke="#000" stroke-width="1.8"/>
<line x1="119.55" y1="226" x2="119.55" y2="228.2" stroke="#000" stroke-width="1.1"/>
<line x1="119.55" y1="321.9" x2="119.55" y2="319.7" stroke="#000" stroke-width="1.1"/>
<line x1="173.10" y1="226" x2="173.10" y2="229.6" stroke="#000" stroke-width="1.1"/>
<line x1="173.10" y1="321.9" x2="173.10" y2="318.29999999999995" stroke="#000" stroke-width="1.1"/>
<line x1="226.65" y1="226" x2="226.65" y2="228.2" stroke="#000" stroke-width="1.1"/>
<line x1="226.65" y1="321.9" x2="226.65" y2="319.7" stroke="#000" stroke-width="1.1"/>
<line x1="66" y1="313.20" x2="69.6" y2="313.20" stroke="#000" stroke-width="1.1"/>
<line x1="280.2" y1="313.20" x2="276.59999999999997" y2="313.20" stroke="#000" stroke-width="1.1"/>
<line x1="66" y1="269.50" x2="68.2" y2="269.50" stroke="#000" stroke-width="1.1"/>
<line x1="280.2" y1="269.50" x2="278.0" y2="269.50" stroke="#000" stroke-width="1.1"/>
<g>
<path d="M333.93,94.05L334.12,94.02M338.12,93.14L338.43,93.05M342.29,91.70L342.76,91.51M346.46,89.77L347.09,89.43M350.62,87.35L351.43,86.83M354.79,84.49L355.76,83.76M358.97,81.20L360.08,80.26M363.15,77.54L364.40,76.39M367.35,73.55L368.70,72.21M371.56,69.28L372.99,67.79M375.79,64.79L377.26,63.18M380.02,60.15L381.53,58.46M384.26,55.40L385.79,53.70M388.52,50.64L390.03,48.96M392.79,45.92L394.26,44.31M397.07,41.32L398.48,39.84M401.36,36.91L402.69,35.59M405.66,32.76L406.89,31.63M409.98,28.94L411.07,28.03M414.31,25.51L415.24,24.82M418.64,22.54L419.41,22.07M422.99,20.08L423.56,19.79M427.33,18.18L427.72,18.03M431.65,16.88L431.90,16.82M435.94,16.19L436.11,16.18M440.20,16.12L440.35,16.13M444.41,16.66L444.64,16.71M448.59,17.79L448.96,17.91M452.75,19.48L453.30,19.75M456.90,21.71L457.65,22.17M461.05,24.46L462.00,25.16M465.22,27.70L466.33,28.64M469.39,31.37L470.66,32.57M473.58,35.44L474.97,36.87M477.78,39.85L479.27,41.47M482.00,44.52L483.55,46.29M486.23,49.39L487.82,51.25M490.47,54.38L492.08,56.27M494.73,59.40L496.32,61.27M499.00,64.38L500.55,66.16M503.28,69.22L504.77,70.86M507.58,73.85L508.97,75.29M511.89,78.18L513.16,79.40M516.21,82.14L517.34,83.10M520.55,85.65L521.50,86.35M524.90,88.63L525.65,89.10M529.25,91.04L529.80,91.30M533.60,92.83L533.95,92.95M537.92,93.95L538.13,93.99" fill="none" stroke="#00f" stroke-width="1.2"/>
<circle cx="331.90" cy="94.37" r="1.15" fill="#00f"/>
<circle cx="336.15" cy="93.70" r="1.15" fill="#00f"/>
<circle cx="340.40" cy="92.49" r="1.15" fill="#00f"/>
<circle cx="344.65" cy="90.73" r="1.15" fill="#00f"/>
<circle cx="348.90" cy="88.46" r="1.15" fill="#00f"/>
<circle cx="353.15" cy="85.72" r="1.15" fill="#00f"/>
<circle cx="357.40" cy="82.53" r="1.7" fill="#00f"/>
<circle cx="361.65" cy="78.94" r="1.7" fill="#00f"/>
<circle cx="365.90" cy="75.00" r="1.7" fill="#00f"/>
<circle cx="370.15" cy="70.77" r="1.7" fill="#00f"/>
<circle cx="374.40" cy="66.30" r="1.7" fill="#00f"/>
<circle cx="378.65" cy="61.67" r="1.7" fill="#00f"/>
<circle cx="382.90" cy="56.93" r="1.7" fill="#00f"/>
<circle cx="387.15" cy="52.16" r="1.7" fill="#00f"/>
<circle cx="391.40" cy="47.43" r="1.7" fill="#00f"/>
<circle cx="395.65" cy="42.80" r="1.7" fill="#00f"/>
<circle cx="399.90" cy="38.35" r="1.7" fill="#00f"/>
<circle cx="404.15" cy="34.14" r="1.7" fill="#00f"/>
<circle cx="408.40" cy="30.25" r="1.7" fill="#00f"/>
<circle cx="412.65" cy="26.72" r="1.7" fill="#00f"/>
<circle cx="416.90" cy="23.61" r="1.7" fill="#00f"/>
<circle cx="421.15" cy="20.99" r="1.7" fill="#00f"/>
<circle cx="425.40" cy="18.88" r="1.15" fill="#00f"/>
<circle cx="429.65" cy="17.33" r="1.15" fill="#00f"/>
<circle cx="433.90" cy="16.36" r="1.15" fill="#00f"/>
<circle cx="438.15" cy="16.00" r="1.7" fill="#00f"/>
<circle cx="442.40" cy="16.25" r="1.7" fill="#00f"/>
<circle cx="446.65" cy="17.12" r="1.7" fill="#00f"/>
<circle cx="450.90" cy="18.58" r="1.7" fill="#00f"/>
<circle cx="455.15" cy="20.64" r="1.7" fill="#00f"/>
<circle cx="459.40" cy="23.25" r="1.7" fill="#00f"/>
<circle cx="463.65" cy="26.37" r="1.7" fill="#00f"/>
<circle cx="467.90" cy="29.97" r="1.7" fill="#00f"/>
<circle cx="472.15" cy="33.98" r="1.7" fill="#00f"/>
<circle cx="476.40" cy="38.34" r="1.7" fill="#00f"/>
<circle cx="480.65" cy="42.98" r="1.7" fill="#00f"/>
<circle cx="484.90" cy="47.83" r="1.7" fill="#00f"/>
<circle cx="489.15" cy="52.81" r="1.7" fill="#00f"/>
<circle cx="493.40" cy="57.84" r="1.7" fill="#00f"/>
<circle cx="497.65" cy="62.83" r="1.7" fill="#00f"/>
<circle cx="501.90" cy="67.70" r="1.7" fill="#00f"/>
<circle cx="506.15" cy="72.37" r="1.7" fill="#00f"/>
<circle cx="510.40" cy="76.77" r="1.7" fill="#00f"/>
<circle cx="514.65" cy="80.81" r="1.7" fill="#00f"/>
<circle cx="518.90" cy="84.43" r="1.7" fill="#00f"/>
<circle cx="523.15" cy="87.56" r="1.15" fill="#00f"/>
<circle cx="527.40" cy="90.16" r="1.15" fill="#00f"/>
<circle cx="531.65" cy="92.18" r="1.15" fill="#00f"/>
<circle cx="535.90" cy="93.59" r="1.15" fill="#00f"/>
<circle cx="540.15" cy="94.35" r="1.15" fill="#00f"/>
<path d="M333.95,94.01L334.10,93.99M338.14,93.03L338.41,92.95M342.30,91.50L342.75,91.30M346.46,89.43L347.09,89.07M350.61,86.86L351.44,86.30M354.78,83.82L355.77,83.03M358.95,80.35L360.10,79.33M363.14,76.49L364.41,75.26M367.34,72.31L368.71,70.88M371.56,67.85L372.99,66.28M375.78,63.19L377.27,61.52M380.02,58.41L381.53,56.69M384.27,53.56L385.78,51.84M388.54,48.73L390.01,47.08M392.81,44.00L394.24,42.45M397.10,39.43L398.45,38.04M401.40,35.11L402.65,33.91M405.72,31.10L406.83,30.12M410.04,27.48L411.01,26.73M414.38,24.30L415.17,23.77M418.73,21.62L419.32,21.30M423.07,19.50L423.48,19.33M427.40,17.96L427.65,17.90M431.71,17.04L431.84,17.02M435.98,16.73L436.07,16.73M440.21,17.03L440.34,17.05M444.40,17.91L444.65,17.98M448.57,19.35L448.98,19.52M452.72,21.32L453.33,21.65M456.88,23.80L457.67,24.33M461.04,26.77L462.01,27.52M465.21,30.16L466.34,31.15M469.40,33.96L470.65,35.16M473.60,38.09L474.95,39.48M477.81,42.50L479.24,44.05M482.04,47.13L483.51,48.79M486.27,51.90L487.78,53.62M490.52,56.74L492.03,58.46M494.78,61.58L496.27,63.25M499.06,66.34L500.49,67.91M503.34,70.94L504.71,72.36M507.64,75.31L508.91,76.54M511.95,79.38L513.10,80.39M516.28,83.07L517.27,83.86M520.61,86.33L521.44,86.90M524.96,89.10L525.59,89.46M529.30,91.33L529.75,91.52M533.64,92.97L533.91,93.05M537.95,94.00L538.10,94.02" fill="none" stroke="#f00" stroke-width="1.2"/>
<circle cx="331.90" cy="94.36" r="1.35" fill="#fff" stroke="#f00" stroke-width="0.45"/>
<circle cx="336.15" cy="93.65" r="1.35" fill="#fff" stroke="#f00" stroke-width="0.45"/>
<circle cx="340.40" cy="92.34" r="1.35" fill="#fff" stroke="#f00" stroke-width="0.45"/>
<circle cx="344.65" cy="90.46" r="1.35" fill="#fff" stroke="#f00" stroke-width="0.45"/>
<circle cx="348.90" cy="88.04" r="1.35" fill="#fff" stroke="#f00" stroke-width="0.45"/>
<circle cx="353.15" cy="85.12" r="1.35" fill="#fff" stroke="#f00" stroke-width="0.45"/>
<circle cx="357.40" cy="81.74" r="1.35" fill="#fff" stroke="#f00" stroke-width="0.45"/>
<circle cx="361.65" cy="77.94" r="1.35" fill="#fff" stroke="#f00" stroke-width="0.45"/>
<circle cx="365.90" cy="73.81" r="1.35" fill="#fff" stroke="#f00" stroke-width="0.45"/>
<circle cx="370.15" cy="69.38" r="1.35" fill="#fff" stroke="#f00" stroke-width="0.45"/>
<circle cx="374.40" cy="64.75" r="1.35" fill="#fff" stroke="#f00" stroke-width="0.45"/>
<circle cx="378.65" cy="59.97" r="1.35" fill="#fff" stroke="#f00" stroke-width="0.45"/>
<circle cx="382.90" cy="55.12" r="1.35" fill="#fff" stroke="#f00" stroke-width="0.45"/>
<circle cx="387.15" cy="50.28" r="1.35" fill="#fff" stroke="#f00" stroke-width="0.45"/>
<circle cx="391.40" cy="45.52" r="1.35" fill="#fff" stroke="#f00" stroke-width="0.45"/>
<circle cx="395.65" cy="40.92" r="1.35" fill="#fff" stroke="#f00" stroke-width="0.45"/>
<circle cx="399.90" cy="36.55" r="1.35" fill="#fff" stroke="#f00" stroke-width="0.45"/>
<circle cx="404.15" cy="32.47" r="1.35" fill="#fff" stroke="#f00" stroke-width="0.45"/>
<circle cx="408.40" cy="28.75" r="1.35" fill="#fff" stroke="#f00" stroke-width="0.45"/>
<circle cx="412.65" cy="25.45" r="1.35" fill="#fff" stroke="#f00" stroke-width="0.45"/>
<circle cx="416.90" cy="22.62" r="1.35" fill="#fff" stroke="#f00" stroke-width="0.45"/>
<circle cx="421.15" cy="20.30" r="1.35" fill="#fff" stroke="#f00" stroke-width="0.45"/>
<circle cx="425.40" cy="18.53" r="1.35" fill="#fff" stroke="#f00" stroke-width="0.45"/>
<circle cx="429.65" cy="17.33" r="1.35" fill="#fff" stroke="#f00" stroke-width="0.45"/>
<circle cx="433.90" cy="16.73" r="1.35" fill="#fff" stroke="#f00" stroke-width="0.45"/>
<circle cx="438.15" cy="16.74" r="1.35" fill="#fff" stroke="#f00" stroke-width="0.45"/>
<circle cx="442.40" cy="17.34" r="1.35" fill="#fff" stroke="#f00" stroke-width="0.45"/>
<circle cx="446.65" cy="18.55" r="1.35" fill="#fff" stroke="#f00" stroke-width="0.45"/>
<circle cx="450.90" cy="20.32" r="1.35" fill="#fff" stroke="#f00" stroke-width="0.45"/>
<circle cx="455.15" cy="22.65" r="1.35" fill="#fff" stroke="#f00" stroke-width="0.45"/>
<circle cx="459.40" cy="25.49" r="1.35" fill="#fff" stroke="#f00" stroke-width="0.45"/>
<circle cx="463.65" cy="28.79" r="1.35" fill="#fff" stroke="#f00" stroke-width="0.45"/>
<circle cx="467.90" cy="32.52" r="1.35" fill="#fff" stroke="#f00" stroke-width="0.45"/>
<circle cx="472.15" cy="36.60" r="1.35" fill="#fff" stroke="#f00" stroke-width="0.45"/>
<circle cx="476.40" cy="40.98" r="1.35" fill="#fff" stroke="#f00" stroke-width="0.45"/>
<circle cx="480.65" cy="45.58" r="1.35" fill="#fff" stroke="#f00" stroke-width="0.45"/>
<circle cx="484.90" cy="50.34" r="1.35" fill="#fff" stroke="#f00" stroke-width="0.45"/>
<circle cx="489.15" cy="55.18" r="1.35" fill="#fff" stroke="#f00" stroke-width="0.45"/>
<circle cx="493.40" cy="60.03" r="1.35" fill="#fff" stroke="#f00" stroke-width="0.45"/>
<circle cx="497.65" cy="64.80" r="1.35" fill="#fff" stroke="#f00" stroke-width="0.45"/>
<circle cx="501.90" cy="69.44" r="1.35" fill="#fff" stroke="#f00" stroke-width="0.45"/>
<circle cx="506.15" cy="73.86" r="1.35" fill="#fff" stroke="#f00" stroke-width="0.45"/>
<circle cx="510.40" cy="77.99" r="1.35" fill="#fff" stroke="#f00" stroke-width="0.45"/>
<circle cx="514.65" cy="81.78" r="1.35" fill="#fff" stroke="#f00" stroke-width="0.45"/>
<circle cx="518.90" cy="85.16" r="1.35" fill="#fff" stroke="#f00" stroke-width="0.45"/>
<circle cx="523.15" cy="88.07" r="1.35" fill="#fff" stroke="#f00" stroke-width="0.45"/>
<circle cx="527.40" cy="90.49" r="1.35" fill="#fff" stroke="#f00" stroke-width="0.45"/>
<circle cx="531.65" cy="92.36" r="1.35" fill="#fff" stroke="#f00" stroke-width="0.45"/>
<circle cx="535.90" cy="93.66" r="1.35" fill="#fff" stroke="#f00" stroke-width="0.45"/>
<circle cx="540.15" cy="94.36" r="1.35" fill="#fff" stroke="#f00" stroke-width="0.45"/>
</g>
<rect x="329" y="7.7" width="214" height="95.60" fill="none" stroke="#000" stroke-width="1.8"/>
<line x1="382.50" y1="7.7" x2="382.50" y2="9.899999999999999" stroke="#000" stroke-width="1.1"/>
<line x1="382.50" y1="103.3" x2="382.50" y2="101.1" stroke="#000" stroke-width="1.1"/>
<line x1="436.00" y1="7.7" x2="436.00" y2="11.299999999999999" stroke="#000" stroke-width="1.1"/>
<line x1="436.00" y1="103.3" x2="436.00" y2="99.7" stroke="#000" stroke-width="1.1"/>
<line x1="489.50" y1="7.7" x2="489.50" y2="9.899999999999999" stroke="#000" stroke-width="1.1"/>
<line x1="489.50" y1="103.3" x2="489.50" y2="101.1" stroke="#000" stroke-width="1.1"/>
<line x1="329" y1="94.50" x2="332.6" y2="94.50" stroke="#000" stroke-width="1.1"/>
<line x1="543" y1="94.50" x2="539.4" y2="94.50" stroke="#000" stroke-width="1.1"/>
<line x1="329" y1="51.00" x2="331.2" y2="51.00" stroke="#000" stroke-width="1.1"/>
<line x1="543" y1="51.00" x2="540.8" y2="51.00" stroke="#000" stroke-width="1.1"/>
<g>
<path d="M333.92,201.12L334.13,201.09M338.11,200.16L338.44,200.06M342.28,198.64L342.77,198.42M346.43,196.59L347.12,196.21M350.59,194.04L351.46,193.45M354.75,191.01L355.80,190.19M358.93,187.54L360.12,186.48M363.11,183.68L364.44,182.39M367.31,179.47L368.74,177.97M371.52,174.97L373.03,173.30M375.75,170.24L377.30,168.45M379.98,165.35L381.57,163.49M384.23,160.37L385.82,158.49M388.48,155.37L390.07,153.53M392.75,150.43L394.30,148.67M397.03,145.62L398.52,144.01M401.33,141.03L402.72,139.59M405.64,136.71L406.91,135.50M409.96,132.75L411.09,131.77M414.29,129.21L415.26,128.48M418.63,126.16L419.42,125.66M422.98,123.65L423.57,123.36M427.33,121.73L427.72,121.59M431.65,120.45L431.90,120.39M435.94,119.81L436.11,119.80M440.19,119.81L440.36,119.83M444.40,120.45L444.65,120.51M448.57,121.69L448.98,121.84M452.72,123.51L453.33,123.83M456.87,125.89L457.68,126.43M461.02,128.81L462.03,129.59M465.18,132.22L466.37,133.28M469.36,136.08L470.69,137.41M473.55,140.35L475.00,141.91M477.75,144.96L479.30,146.72M481.97,149.83L483.58,151.75M486.20,154.90L487.85,156.91M490.44,160.09L492.11,162.13M494.70,165.30L496.35,167.31M498.97,170.46L500.58,172.37M503.25,175.48L504.80,177.23M507.55,180.27L509.00,181.81M511.86,184.75L513.19,186.05M516.19,188.84L517.36,189.87M520.53,192.46L521.52,193.21M524.88,195.55L525.67,196.04M529.24,198.04L529.81,198.31M533.59,199.88L533.96,200.00M537.92,201.03L538.13,201.07" fill="none" stroke="#00f" stroke-width="1.2"/>
<circle cx="331.90" cy="201.46" r="1.15" fill="#00f"/>
<circle cx="336.15" cy="200.75" r="1.15" fill="#00f"/>
<circle cx="340.40" cy="199.46" r="1.15" fill="#00f"/>
<circle cx="344.65" cy="197.60" r="1.15" fill="#00f"/>
<circle cx="348.90" cy="195.20" r="1.15" fill="#00f"/>
<circle cx="353.15" cy="192.29" r="1.15" fill="#00f"/>
<circle cx="357.40" cy="188.91" r="1.7" fill="#00f"/>
<circle cx="361.65" cy="185.11" r="1.7" fill="#00f"/>
<circle cx="365.90" cy="180.95" r="1.7" fill="#00f"/>
<circle cx="370.15" cy="176.49" r="1.7" fill="#00f"/>
<circle cx="374.40" cy="171.78" r="1.7" fill="#00f"/>
<circle cx="378.65" cy="166.91" r="1.7" fill="#00f"/>
<circle cx="382.90" cy="161.93" r="1.7" fill="#00f"/>
<circle cx="387.15" cy="156.93" r="1.7" fill="#00f"/>
<circle cx="391.40" cy="151.97" r="1.7" fill="#00f"/>
<circle cx="395.65" cy="147.14" r="1.7" fill="#00f"/>
<circle cx="399.90" cy="142.50" r="1.7" fill="#00f"/>
<circle cx="404.15" cy="138.12" r="1.7" fill="#00f"/>
<circle cx="408.40" cy="134.08" r="1.7" fill="#00f"/>
<circle cx="412.65" cy="130.44" r="1.7" fill="#00f"/>
<circle cx="416.90" cy="127.25" r="1.7" fill="#00f"/>
<circle cx="421.15" cy="124.57" r="1.7" fill="#00f"/>
<circle cx="425.40" cy="122.44" r="1.15" fill="#00f"/>
<circle cx="429.65" cy="120.89" r="1.15" fill="#00f"/>
<circle cx="433.90" cy="119.96" r="1.15" fill="#00f"/>
<circle cx="438.15" cy="119.65" r="1.15" fill="#00f"/>
<circle cx="442.40" cy="119.99" r="1.7" fill="#00f"/>
<circle cx="446.65" cy="120.96" r="1.7" fill="#00f"/>
<circle cx="450.90" cy="122.57" r="1.7" fill="#00f"/>
<circle cx="455.15" cy="124.77" r="1.7" fill="#00f"/>
<circle cx="459.40" cy="127.55" r="1.7" fill="#00f"/>
<circle cx="463.65" cy="130.85" r="1.7" fill="#00f"/>
<circle cx="467.90" cy="134.64" r="1.7" fill="#00f"/>
<circle cx="472.15" cy="138.85" r="1.7" fill="#00f"/>
<circle cx="476.40" cy="143.42" r="1.7" fill="#00f"/>
<circle cx="480.65" cy="148.26" r="1.7" fill="#00f"/>
<circle cx="484.90" cy="153.32" r="1.7" fill="#00f"/>
<circle cx="489.15" cy="158.50" r="1.7" fill="#00f"/>
<circle cx="493.40" cy="163.72" r="1.7" fill="#00f"/>
<circle cx="497.65" cy="168.89" r="1.7" fill="#00f"/>
<circle cx="501.90" cy="173.94" r="1.7" fill="#00f"/>
<circle cx="506.15" cy="178.77" r="1.7" fill="#00f"/>
<circle cx="510.40" cy="183.31" r="1.7" fill="#00f"/>
<circle cx="514.65" cy="187.48" r="1.7" fill="#00f"/>
<circle cx="518.90" cy="191.22" r="1.15" fill="#00f"/>
<circle cx="523.15" cy="194.45" r="1.15" fill="#00f"/>
<circle cx="527.40" cy="197.13" r="1.15" fill="#00f"/>
<circle cx="531.65" cy="199.21" r="1.15" fill="#00f"/>
<circle cx="535.90" cy="200.66" r="1.15" fill="#00f"/>
<circle cx="540.15" cy="201.45" r="1.15" fill="#00f"/>
<path d="M333.95,201.09L334.10,201.06M338.13,200.07L338.42,199.97M342.29,198.46L342.76,198.24M346.44,196.30L347.11,195.90M350.59,193.61L351.46,192.98M354.75,190.43L355.80,189.55M358.92,186.80L360.13,185.66M363.11,182.76L364.44,181.39M367.31,178.37L368.74,176.80M371.52,173.70L373.03,171.97M375.75,168.82L377.30,166.98M379.98,163.80L381.57,161.91M384.24,158.72L385.81,156.83M388.50,153.66L390.05,151.83M392.77,148.69L394.28,146.99M397.06,143.90L398.49,142.37M401.37,139.37L402.68,138.04M405.68,135.16L406.87,134.07M410.01,131.35L411.04,130.52M414.35,128.02L415.20,127.43M418.71,125.20L419.34,124.84M423.06,122.97L423.49,122.78M427.40,121.36L427.65,121.28M431.71,120.39L431.84,120.37M435.98,120.07L436.07,120.07M440.21,120.38L440.34,120.40M444.39,121.30L444.66,121.37M448.55,122.80L449.00,122.99M452.70,124.87L453.35,125.23M456.85,127.46L457.70,128.05M461.01,130.56L462.04,131.40M465.18,134.12L466.37,135.21M469.37,138.09L470.68,139.42M473.56,142.42L474.99,143.96M477.77,147.04L479.28,148.75M482.00,151.89L483.55,153.72M486.24,156.89L487.81,158.78M490.48,161.97L492.07,163.86M494.75,167.04L496.30,168.88M499.02,172.03L500.53,173.76M503.31,176.86L504.74,178.42M507.61,181.44L508.94,182.81M511.92,185.71L513.13,186.84M516.25,189.59L517.30,190.47M520.59,193.02L521.46,193.65M524.94,195.93L525.61,196.33M529.29,198.27L529.76,198.48M533.63,199.99L533.92,200.08M537.95,201.07L538.10,201.10" fill="none" stroke="#f00" stroke-width="1.2"/>
<circle cx="331.90" cy="201.45" r="1.35" fill="#fff" stroke="#f00" stroke-width="0.45"/>
<circle cx="336.15" cy="200.70" r="1.35" fill="#fff" stroke="#f00" stroke-width="0.45"/>
<circle cx="340.40" cy="199.34" r="1.35" fill="#fff" stroke="#f00" stroke-width="0.45"/>
<circle cx="344.65" cy="197.37" r="1.35" fill="#fff" stroke="#f00" stroke-width="0.45"/>
<circle cx="348.90" cy="194.83" r="1.35" fill="#fff" stroke="#f00" stroke-width="0.45"/>
<circle cx="353.15" cy="191.76" r="1.35" fill="#fff" stroke="#f00" stroke-width="0.45"/>
<circle cx="357.40" cy="188.22" r="1.35" fill="#fff" stroke="#f00" stroke-width="0.45"/>
<circle cx="361.65" cy="184.24" r="1.35" fill="#fff" stroke="#f00" stroke-width="0.45"/>
<circle cx="365.90" cy="179.90" r="1.35" fill="#fff" stroke="#f00" stroke-width="0.45"/>
<circle cx="370.15" cy="175.27" r="1.35" fill="#fff" stroke="#f00" stroke-width="0.45"/>
<circle cx="374.40" cy="170.41" r="1.35" fill="#fff" stroke="#f00" stroke-width="0.45"/>
<circle cx="378.65" cy="165.40" r="1.35" fill="#fff" stroke="#f00" stroke-width="0.45"/>
<circle cx="382.90" cy="160.31" r="1.35" fill="#fff" stroke="#f00" stroke-width="0.45"/>
<circle cx="387.15" cy="155.24" r="1.35" fill="#fff" stroke="#f00" stroke-width="0.45"/>
<circle cx="391.40" cy="150.25" r="1.35" fill="#fff" stroke="#f00" stroke-width="0.45"/>
<circle cx="395.65" cy="145.43" r="1.35" fill="#fff" stroke="#f00" stroke-width="0.45"/>
<circle cx="399.90" cy="140.84" r="1.35" fill="#fff" stroke="#f00" stroke-width="0.45"/>
<circle cx="404.15" cy="136.57" r="1.35" fill="#fff" stroke="#f00" stroke-width="0.45"/>
<circle cx="408.40" cy="132.67" r="1.35" fill="#fff" stroke="#f00" stroke-width="0.45"/>
<circle cx="412.65" cy="129.21" r="1.35" fill="#fff" stroke="#f00" stroke-width="0.45"/>
<circle cx="416.90" cy="126.24" r="1.35" fill="#fff" stroke="#f00" stroke-width="0.45"/>
<circle cx="421.15" cy="123.80" r="1.35" fill="#fff" stroke="#f00" stroke-width="0.45"/>
<circle cx="425.40" cy="121.95" r="1.35" fill="#fff" stroke="#f00" stroke-width="0.45"/>
<circle cx="429.65" cy="120.69" r="1.35" fill="#fff" stroke="#f00" stroke-width="0.45"/>
<circle cx="433.90" cy="120.06" r="1.35" fill="#fff" stroke="#f00" stroke-width="0.45"/>
<circle cx="438.15" cy="120.07" r="1.35" fill="#fff" stroke="#f00" stroke-width="0.45"/>
<circle cx="442.40" cy="120.71" r="1.35" fill="#fff" stroke="#f00" stroke-width="0.45"/>
<circle cx="446.65" cy="121.97" r="1.35" fill="#fff" stroke="#f00" stroke-width="0.45"/>
<circle cx="450.90" cy="123.83" r="1.35" fill="#fff" stroke="#f00" stroke-width="0.45"/>
<circle cx="455.15" cy="126.27" r="1.35" fill="#fff" stroke="#f00" stroke-width="0.45"/>
<circle cx="459.40" cy="129.25" r="1.35" fill="#fff" stroke="#f00" stroke-width="0.45"/>
<circle cx="463.65" cy="132.71" r="1.35" fill="#fff" stroke="#f00" stroke-width="0.45"/>
<circle cx="467.90" cy="136.61" r="1.35" fill="#fff" stroke="#f00" stroke-width="0.45"/>
<circle cx="472.15" cy="140.89" r="1.35" fill="#fff" stroke="#f00" stroke-width="0.45"/>
<circle cx="476.40" cy="145.48" r="1.35" fill="#fff" stroke="#f00" stroke-width="0.45"/>
<circle cx="480.65" cy="150.31" r="1.35" fill="#fff" stroke="#f00" stroke-width="0.45"/>
<circle cx="484.90" cy="155.30" r="1.35" fill="#fff" stroke="#f00" stroke-width="0.45"/>
<circle cx="489.15" cy="160.37" r="1.35" fill="#fff" stroke="#f00" stroke-width="0.45"/>
<circle cx="493.40" cy="165.46" r="1.35" fill="#fff" stroke="#f00" stroke-width="0.45"/>
<circle cx="497.65" cy="170.47" r="1.35" fill="#fff" stroke="#f00" stroke-width="0.45"/>
<circle cx="501.90" cy="175.32" r="1.35" fill="#fff" stroke="#f00" stroke-width="0.45"/>
<circle cx="506.15" cy="179.96" r="1.35" fill="#fff" stroke="#f00" stroke-width="0.45"/>
<circle cx="510.40" cy="184.29" r="1.35" fill="#fff" stroke="#f00" stroke-width="0.45"/>
<circle cx="514.65" cy="188.26" r="1.35" fill="#fff" stroke="#f00" stroke-width="0.45"/>
<circle cx="518.90" cy="191.80" r="1.35" fill="#fff" stroke="#f00" stroke-width="0.45"/>
<circle cx="523.15" cy="194.86" r="1.35" fill="#fff" stroke="#f00" stroke-width="0.45"/>
<circle cx="527.40" cy="197.39" r="1.35" fill="#fff" stroke="#f00" stroke-width="0.45"/>
<circle cx="531.65" cy="199.36" r="1.35" fill="#fff" stroke="#f00" stroke-width="0.45"/>
<circle cx="535.90" cy="200.72" r="1.35" fill="#fff" stroke="#f00" stroke-width="0.45"/>
<circle cx="540.15" cy="201.46" r="1.35" fill="#fff" stroke="#f00" stroke-width="0.45"/>
</g>
<rect x="329" y="114.4" width="214" height="96.10" fill="none" stroke="#000" stroke-width="1.8"/>
<line x1="382.50" y1="114.4" x2="382.50" y2="116.60000000000001" stroke="#000" stroke-width="1.1"/>
<line x1="382.50" y1="210.5" x2="382.50" y2="208.3" stroke="#000" stroke-width="1.1"/>
<line x1="436.00" y1="114.4" x2="436.00" y2="118.0" stroke="#000" stroke-width="1.1"/>
<line x1="436.00" y1="210.5" x2="436.00" y2="206.9" stroke="#000" stroke-width="1.1"/>
<line x1="489.50" y1="114.4" x2="489.50" y2="116.60000000000001" stroke="#000" stroke-width="1.1"/>
<line x1="489.50" y1="210.5" x2="489.50" y2="208.3" stroke="#000" stroke-width="1.1"/>
<line x1="329" y1="201.60" x2="332.6" y2="201.60" stroke="#000" stroke-width="1.1"/>
<line x1="543" y1="201.60" x2="539.4" y2="201.60" stroke="#000" stroke-width="1.1"/>
<line x1="329" y1="158.05" x2="331.2" y2="158.05" stroke="#000" stroke-width="1.1"/>
<line x1="543" y1="158.05" x2="540.8" y2="158.05" stroke="#000" stroke-width="1.1"/>
<g>
<path d="M333.92,311.39L334.13,311.35M338.10,310.36L338.45,310.24M342.26,308.74L342.79,308.49M346.41,306.56L347.14,306.11M350.56,303.85L351.49,303.16M354.72,300.64L355.83,299.70M358.89,296.97L360.16,295.78M363.08,292.91L364.47,291.48M367.28,288.50L368.77,286.87M371.50,283.81L373.05,282.03M375.73,278.92L377.32,277.04M379.97,273.90L381.58,271.98M384.22,268.84L385.83,266.92M388.49,263.80L390.06,261.96M392.76,258.88L394.29,257.17M397.06,254.15L398.49,252.62M401.36,249.69L402.69,248.38M405.68,245.57L406.87,244.51M410.01,241.87L411.04,241.06M414.35,238.65L415.20,238.09M418.70,235.97L419.35,235.62M423.05,233.87L423.50,233.69M427.38,232.40L427.67,232.32M431.69,231.56L431.86,231.54M435.95,231.37L436.10,231.37M440.17,231.79L440.38,231.83M444.35,232.81L444.70,232.92M448.51,234.41L449.04,234.65M452.67,236.54L453.38,236.97M456.82,239.20L457.73,239.85M460.98,242.34L462.07,243.23M465.16,245.92L466.39,247.05M469.35,249.89L470.70,251.25M473.55,254.20L475.00,255.75M477.76,258.78L479.29,260.48M481.99,263.56L483.56,265.37M486.23,268.48L487.82,270.34M490.48,273.45L492.07,275.31M494.75,278.41L496.30,280.21M499.02,283.28L500.53,284.96M503.31,287.97L504.74,289.49M507.61,292.42L508.94,293.74M511.92,296.56L513.13,297.65M516.25,300.31L517.30,301.16M520.58,303.62L521.47,304.24M524.93,306.43L525.62,306.83M529.27,308.68L529.78,308.90M533.61,310.34L533.94,310.44M537.92,311.39L538.13,311.42" fill="none" stroke="#00f" stroke-width="1.2"/>
<circle cx="331.90" cy="311.75" r="1.15" fill="#00f"/>
<circle cx="336.15" cy="310.99" r="1.15" fill="#00f"/>
<circle cx="340.40" cy="309.61" r="1.15" fill="#00f"/>
<circle cx="344.65" cy="307.62" r="1.15" fill="#00f"/>
<circle cx="348.90" cy="305.05" r="1.15" fill="#00f"/>
<circle cx="353.15" cy="301.96" r="1.15" fill="#00f"/>
<circle cx="357.40" cy="298.38" r="1.15" fill="#00f"/>
<circle cx="361.65" cy="294.38" r="1.15" fill="#00f"/>
<circle cx="365.90" cy="290.01" r="1.15" fill="#00f"/>
<circle cx="370.15" cy="285.36" r="1.7" fill="#00f"/>
<circle cx="374.40" cy="280.48" r="1.7" fill="#00f"/>
<circle cx="378.65" cy="275.47" r="1.7" fill="#00f"/>
<circle cx="382.90" cy="270.40" r="1.7" fill="#00f"/>
<circle cx="387.15" cy="265.36" r="1.7" fill="#00f"/>
<circle cx="391.40" cy="260.41" r="1.7" fill="#00f"/>
<circle cx="395.65" cy="255.64" r="1.7" fill="#00f"/>
<circle cx="399.90" cy="251.13" r="1.7" fill="#00f"/>
<circle cx="404.15" cy="246.94" r="1.7" fill="#00f"/>
<circle cx="408.40" cy="243.14" r="1.7" fill="#00f"/>
<circle cx="412.65" cy="239.79" r="1.7" fill="#00f"/>
<circle cx="416.90" cy="236.95" r="1.7" fill="#00f"/>
<circle cx="421.15" cy="234.64" r="1.7" fill="#00f"/>
<circle cx="425.40" cy="232.92" r="1.15" fill="#00f"/>
<circle cx="429.65" cy="231.80" r="1.15" fill="#00f"/>
<circle cx="433.90" cy="231.30" r="1.15" fill="#00f"/>
<circle cx="438.15" cy="231.43" r="1.15" fill="#00f"/>
<circle cx="442.40" cy="232.19" r="1.15" fill="#00f"/>
<circle cx="446.65" cy="233.55" r="1.15" fill="#00f"/>
<circle cx="450.90" cy="235.50" r="1.15" fill="#00f"/>
<circle cx="455.15" cy="238.01" r="1.15" fill="#00f"/>
<circle cx="459.40" cy="241.03" r="1.15" fill="#00f"/>
<circle cx="463.65" cy="244.53" r="1.15" fill="#00f"/>
<circle cx="467.90" cy="248.44" r="1.15" fill="#00f"/>
<circle cx="472.15" cy="252.70" r="1.15" fill="#00f"/>
<circle cx="476.40" cy="257.25" r="1.7" fill="#00f"/>
<circle cx="480.65" cy="262.01" r="1.7" fill="#00f"/>
<circle cx="484.90" cy="266.92" r="1.7" fill="#00f"/>
<circle cx="489.15" cy="271.90" r="1.7" fill="#00f"/>
<circle cx="493.40" cy="276.87" r="1.15" fill="#00f"/>
<circle cx="497.65" cy="281.75" r="1.15" fill="#00f"/>
<circle cx="501.90" cy="286.48" r="1.15" fill="#00f"/>
<circle cx="506.15" cy="290.98" r="1.15" fill="#00f"/>
<circle cx="510.40" cy="295.18" r="1.15" fill="#00f"/>
<circle cx="514.65" cy="299.03" r="1.15" fill="#00f"/>
<circle cx="518.90" cy="302.45" r="1.15" fill="#00f"/>
<circle cx="523.15" cy="305.41" r="1.15" fill="#00f"/>
<circle cx="527.40" cy="307.85" r="1.15" fill="#00f"/>
<circle cx="531.65" cy="309.74" r="1.15" fill="#00f"/>
<circle cx="535.90" cy="311.05" r="1.15" fill="#00f"/>
<circle cx="540.15" cy="311.76" r="1.15" fill="#00f"/>
<path d="M333.95,311.40L334.10,311.37M338.13,310.39L338.42,310.30M342.29,308.81L342.76,308.59M346.44,306.68L347.11,306.29M350.60,304.03L351.45,303.42M354.76,300.89L355.79,300.04M358.93,297.31L360.12,296.21M363.12,293.33L364.43,292.01M367.32,289.01L368.73,287.49M371.53,284.41L373.02,282.73M375.76,279.60L377.29,277.82M380.00,274.66L381.55,272.82M384.25,269.65L385.80,267.82M388.51,264.67L390.04,262.90M392.79,259.78L394.26,258.12M397.08,255.06L398.47,253.57M401.38,250.59L402.67,249.31M405.69,246.45L406.86,245.40M410.02,242.71L411.03,241.90M414.36,239.42L415.19,238.85M418.71,236.65L419.34,236.30M423.06,234.46L423.49,234.27M427.40,232.87L427.65,232.79M431.71,231.91L431.84,231.89M435.98,231.60L436.07,231.60M440.21,231.90L440.34,231.92M444.40,232.81L444.65,232.88M448.56,234.29L448.99,234.48M452.71,236.33L453.34,236.68M456.86,238.89L457.69,239.45M461.02,241.94L462.03,242.75M465.19,245.45L466.36,246.50M469.38,249.36L470.67,250.64M473.57,253.62L474.98,255.11M477.79,258.18L479.26,259.83M482.01,262.96L483.54,264.72M486.25,267.88L487.80,269.71M490.50,272.88L492.05,274.72M494.76,277.88L496.29,279.66M499.03,282.79L500.52,284.46M503.32,287.54L504.73,289.06M507.62,292.06L508.93,293.38M511.93,296.26L513.12,297.35M516.26,300.08L517.29,300.93M520.60,303.45L521.45,304.06M524.94,306.32L525.61,306.71M529.29,308.62L529.76,308.83M533.63,310.31L533.92,310.40M537.95,311.38L538.10,311.41" fill="none" stroke="#f00" stroke-width="1.2"/>
<circle cx="331.90" cy="311.75" r="1.35" fill="#fff" stroke="#f00" stroke-width="0.45"/>
<circle cx="336.15" cy="311.02" r="1.35" fill="#fff" stroke="#f00" stroke-width="0.45"/>
<circle cx="340.40" cy="309.67" r="1.35" fill="#fff" stroke="#f00" stroke-width="0.45"/>
<circle cx="344.65" cy="307.73" r="1.35" fill="#fff" stroke="#f00" stroke-width="0.45"/>
<circle cx="348.90" cy="305.23" r="1.35" fill="#fff" stroke="#f00" stroke-width="0.45"/>
<circle cx="353.15" cy="302.21" r="1.35" fill="#fff" stroke="#f00" stroke-width="0.45"/>
<circle cx="357.40" cy="298.72" r="1.35" fill="#fff" stroke="#f00" stroke-width="0.45"/>
<circle cx="361.65" cy="294.80" r="1.35" fill="#fff" stroke="#f00" stroke-width="0.45"/>
<circle cx="365.90" cy="290.53" r="1.35" fill="#fff" stroke="#f00" stroke-width="0.45"/>
<circle cx="370.15" cy="285.97" r="1.35" fill="#fff" stroke="#f00" stroke-width="0.45"/>
<circle cx="374.40" cy="281.18" r="1.35" fill="#fff" stroke="#f00" stroke-width="0.45"/>
<circle cx="378.65" cy="276.24" r="1.35" fill="#fff" stroke="#f00" stroke-width="0.45"/>
<circle cx="382.90" cy="271.24" r="1.35" fill="#fff" stroke="#f00" stroke-width="0.45"/>
<circle cx="387.15" cy="266.24" r="1.35" fill="#fff" stroke="#f00" stroke-width="0.45"/>
<circle cx="391.40" cy="261.33" r="1.35" fill="#fff" stroke="#f00" stroke-width="0.45"/>
<circle cx="395.65" cy="256.57" r="1.35" fill="#fff" stroke="#f00" stroke-width="0.45"/>
<circle cx="399.90" cy="252.06" r="1.35" fill="#fff" stroke="#f00" stroke-width="0.45"/>
<circle cx="404.15" cy="247.85" r="1.35" fill="#fff" stroke="#f00" stroke-width="0.45"/>
<circle cx="408.40" cy="244.01" r="1.35" fill="#fff" stroke="#f00" stroke-width="0.45"/>
<circle cx="412.65" cy="240.60" r="1.35" fill="#fff" stroke="#f00" stroke-width="0.45"/>
<circle cx="416.90" cy="237.67" r="1.35" fill="#fff" stroke="#f00" stroke-width="0.45"/>
<circle cx="421.15" cy="235.28" r="1.35" fill="#fff" stroke="#f00" stroke-width="0.45"/>
<circle cx="425.40" cy="233.45" r="1.35" fill="#fff" stroke="#f00" stroke-width="0.45"/>
<circle cx="429.65" cy="232.21" r="1.35" fill="#fff" stroke="#f00" stroke-width="0.45"/>
<circle cx="433.90" cy="231.59" r="1.35" fill="#fff" stroke="#f00" stroke-width="0.45"/>
<circle cx="438.15" cy="231.60" r="1.35" fill="#fff" stroke="#f00" stroke-width="0.45"/>
<circle cx="442.40" cy="232.22" r="1.35" fill="#fff" stroke="#f00" stroke-width="0.45"/>
<circle cx="446.65" cy="233.47" r="1.35" fill="#fff" stroke="#f00" stroke-width="0.45"/>
<circle cx="450.90" cy="235.30" r="1.35" fill="#fff" stroke="#f00" stroke-width="0.45"/>
<circle cx="455.15" cy="237.70" r="1.35" fill="#fff" stroke="#f00" stroke-width="0.45"/>
<circle cx="459.40" cy="240.64" r="1.35" fill="#fff" stroke="#f00" stroke-width="0.45"/>
<circle cx="463.65" cy="244.05" r="1.35" fill="#fff" stroke="#f00" stroke-width="0.45"/>
<circle cx="467.90" cy="247.89" r="1.35" fill="#fff" stroke="#f00" stroke-width="0.45"/>
<circle cx="472.15" cy="252.11" r="1.35" fill="#fff" stroke="#f00" stroke-width="0.45"/>
<circle cx="476.40" cy="256.63" r="1.35" fill="#fff" stroke="#f00" stroke-width="0.45"/>
<circle cx="480.65" cy="261.38" r="1.35" fill="#fff" stroke="#f00" stroke-width="0.45"/>
<circle cx="484.90" cy="266.30" r="1.35" fill="#fff" stroke="#f00" stroke-width="0.45"/>
<circle cx="489.15" cy="271.30" r="1.35" fill="#fff" stroke="#f00" stroke-width="0.45"/>
<circle cx="493.40" cy="276.30" r="1.35" fill="#fff" stroke="#f00" stroke-width="0.45"/>
<circle cx="497.65" cy="281.23" r="1.35" fill="#fff" stroke="#f00" stroke-width="0.45"/>
<circle cx="501.90" cy="286.02" r="1.35" fill="#fff" stroke="#f00" stroke-width="0.45"/>
<circle cx="506.15" cy="290.58" r="1.35" fill="#fff" stroke="#f00" stroke-width="0.45"/>
<circle cx="510.40" cy="294.85" r="1.35" fill="#fff" stroke="#f00" stroke-width="0.45"/>
<circle cx="514.65" cy="298.76" r="1.35" fill="#fff" stroke="#f00" stroke-width="0.45"/>
<circle cx="518.90" cy="302.25" r="1.35" fill="#fff" stroke="#f00" stroke-width="0.45"/>
<circle cx="523.15" cy="305.27" r="1.35" fill="#fff" stroke="#f00" stroke-width="0.45"/>
<circle cx="527.40" cy="307.76" r="1.35" fill="#fff" stroke="#f00" stroke-width="0.45"/>
<circle cx="531.65" cy="309.69" r="1.35" fill="#fff" stroke="#f00" stroke-width="0.45"/>
<circle cx="535.90" cy="311.03" r="1.35" fill="#fff" stroke="#f00" stroke-width="0.45"/>
<circle cx="540.15" cy="311.76" r="1.35" fill="#fff" stroke="#f00" stroke-width="0.45"/>
</g>
<rect x="329" y="224.8" width="214" height="95.80" fill="none" stroke="#000" stroke-width="1.8"/>
<line x1="382.50" y1="224.8" x2="382.50" y2="227.0" stroke="#000" stroke-width="1.1"/>
<line x1="382.50" y1="320.6" x2="382.50" y2="318.40000000000003" stroke="#000" stroke-width="1.1"/>
<line x1="436.00" y1="224.8" x2="436.00" y2="228.4" stroke="#000" stroke-width="1.1"/>
<line x1="436.00" y1="320.6" x2="436.00" y2="317.0" stroke="#000" stroke-width="1.1"/>
<line x1="489.50" y1="224.8" x2="489.50" y2="227.0" stroke="#000" stroke-width="1.1"/>
<line x1="489.50" y1="320.6" x2="489.50" y2="318.40000000000003" stroke="#000" stroke-width="1.1"/>
<line x1="329" y1="311.90" x2="332.6" y2="311.90" stroke="#000" stroke-width="1.1"/>
<line x1="543" y1="311.90" x2="539.4" y2="311.90" stroke="#000" stroke-width="1.1"/>
<line x1="329" y1="268.45" x2="331.2" y2="268.45" stroke="#000" stroke-width="1.1"/>
<line x1="543" y1="268.45" x2="540.8" y2="268.45" stroke="#000" stroke-width="1.1"/>
<text x="58.00" y="11.70" font-size="11.8" text-anchor="end">1.30x10</text>
<text x="58.10" y="5.70" font-size="7.6">-4</text>
<text x="63.60" y="96.80" font-size="11.8" text-anchor="end" >0.00</text>
<text x="59.30" y="119.80" font-size="11.8" text-anchor="end">7.20x10</text>
<text x="59.40" y="113.80" font-size="7.6">-4</text>
<text x="65.60" y="203.60" font-size="11.8" text-anchor="end" >0.00</text>
<text x="57.50" y="230.20" font-size="11.8" text-anchor="end">2.70x10</text>
<text x="57.60" y="224.20" font-size="7.6">-3</text>
<text x="63.90" y="315.10" font-size="11.8" text-anchor="end" >0.00</text>
<text x="321.00" y="11.70" font-size="11.8" text-anchor="end">1.90x10</text>
<text x="321.10" y="5.70" font-size="7.6">-4</text>
<text x="326.40" y="96.40" font-size="11.8" text-anchor="end" >0.00</text>
<text x="321.00" y="121.90" font-size="11.8" text-anchor="end">1.0x10</text>
<text x="321.10" y="115.90" font-size="7.6">-3</text>
<text x="325.90" y="206.40" font-size="11.8" text-anchor="end" >0.0</text>
<text x="320.80" y="231.70" font-size="11.8" text-anchor="end">3.80x10</text>
<text x="320.90" y="225.70" font-size="7.6">-3</text>
<text x="326.00" y="316.90" font-size="11.8" text-anchor="end" >0.00</text>
<text x="66.00" y="333.50" font-size="11.8" text-anchor="middle" >0.0</text>
<text x="173.00" y="333.50" font-size="11.8" text-anchor="middle" >0.5</text>
<text x="280.00" y="333.50" font-size="11.8" text-anchor="middle" >1.0</text>
<text x="329.00" y="332.30" font-size="11.8" text-anchor="middle" >0.0</text>
<text x="436.00" y="332.30" font-size="11.8" text-anchor="middle" >0.5</text>
<text x="543.00" y="332.30" font-size="11.8" text-anchor="middle" >1.0</text>
<text x="563.20" y="333.40" font-size="12.3" text-anchor="middle" >0.0</text>
<text x="673.40" y="335.80" font-size="12.3" text-anchor="end">5.0x10</text>
<text x="673.50" y="328.90" font-size="7.5">-4</text>
<text x="173.40" y="356.70" font-size="14" text-anchor="middle" >Angle &#946; (&#960;)</text>
<text x="436.00" y="355.40" font-size="14" text-anchor="middle" >Angle &#946; (&#960;)</text>
<text x="606.50" y="353.20" font-size="12.2" text-anchor="middle" >Population Ratio</text>
<text transform="translate(10.3,158.25) rotate(-90)" font-size="14.72" text-anchor="middle">Angular distribution of fragments (Arb. Units)</text>
<text transform="translate(682.5,172.1) rotate(-90)" font-size="12.52" text-anchor="middle">Pulse duration fwhm (fs)</text>
<rect x="263" y="39.7" width="82" height="22.5" fill="#fff"/>
<text x="303.80" y="55.80" font-size="13.6" text-anchor="middle" >fwhm=0.22 fs</text>
<rect x="263" y="153.9" width="82" height="22.5" fill="#fff"/>
<text x="305.30" y="169.80" font-size="13.6" text-anchor="middle" >fwhm=0.44 fs</text>
<rect x="263" y="262.8" width="82" height="22.6" fill="#fff"/>
<text x="305.70" y="278.60" font-size="13.6" text-anchor="middle" >fwhm=0.88 fs</text>
<text x="250.90" y="86.90" font-size="15.5" text-anchor="middle" >(a)</text>
<text x="382.50" y="86.90" font-size="15.5" text-anchor="middle" >(b)</text>
<text x="250.90" y="200.90" font-size="15.5" text-anchor="middle" >(c)</text>
<text x="382.50" y="200.90" font-size="15.5" text-anchor="middle" >(d)</text>
<text x="250.80" y="314.60" font-size="15.5" text-anchor="middle" >(e)</text>
<text x="384.80" y="314.60" font-size="15.5" text-anchor="middle" >(f)</text>
<text x="644.60" y="310.70" font-size="16.3" text-anchor="middle" >(g)</text>
<line x1="117.6" y1="128.5" x2="151" y2="128.5" stroke="#00f" stroke-width="1"/>
<circle cx="134.2" cy="128.4" r="1.6" fill="#00f"/>
<line x1="117.6" y1="146.5" x2="151" y2="146.5" stroke="#f00" stroke-width="1"/>
<circle cx="134.2" cy="146.4" r="1.5" fill="#fff" stroke="#f00" stroke-width="0.5"/>
<text x="159.0" y="133.4" font-size="14"><tspan dx="-0.9">&#8217;</tspan><tspan dx="-1.2">path1</tspan><tspan dx="-0.9">&#8217;</tspan><tspan dx="-1.2">+</tspan><tspan dx="-0.9">&#8217;</tspan><tspan dx="-1.2">path2</tspan><tspan dx="-0.9">&#8217;</tspan></text>
<text x="159.0" y="151.2" font-size="14"><tspan dx="-0.9">&#8217;</tspan><tspan dx="-1.2">path1</tspan><tspan dx="-0.9">&#8217;</tspan></text>
<polyline fill="none" stroke="#00f" stroke-width="1" points="585.50,114.62 563.40,311.74"/>
<polygon points="624.50,16.66 626.50,16.66 625.50,14.86" fill="#00f"/>
<polygon points="584.50,115.22 586.50,115.22 585.50,113.42" fill="#00f"/>
<polygon points="562.40,312.34 564.40,312.34 563.40,310.54" fill="#00f"/>
<polyline fill="none" stroke="#000" stroke-width="1" points="656.00,16.06 586.80,114.62 563.40,311.74"/>
<rect x="653.90" y="13.96" width="4.20" height="4.20" fill="#000"/>
<rect x="584.70" y="112.52" width="4.20" height="4.20" fill="#000"/>
<rect x="561.30" y="309.64" width="4.20" height="4.20" fill="#000"/>
<polyline fill="none" stroke="#f00" stroke-width="1" points="630.00,16.06 580.20,114.62 563.40,311.74"/>
<circle cx="630.00" cy="16.06" r="2.8" fill="#f00"/>
<circle cx="580.20" cy="114.62" r="2.8" fill="#f00"/>
<circle cx="563.40" cy="311.74" r="2.2" fill="#f00"/>
<polyline fill="none" stroke="#f0f" stroke-width="1" points="625.50,16.06 585.50,114.62 563.40,311.74"/>
<polygon points="622.60,14.26 628.40,14.26 625.50,18.26" fill="#f0f"/>
<polygon points="582.60,112.82 588.40,112.82 585.50,116.82" fill="#f0f"/>
<polygon points="560.50,309.94 566.30,309.94 563.40,313.94" fill="#f0f"/>
<polyline fill="none" stroke="#080" stroke-width="1" points="563.40,16.06 563.40,114.62 563.40,311.74"/>
<polygon points="560.00,16.06 563.40,12.96 566.80,16.06 563.40,19.16" fill="#080"/>
<polygon points="560.00,114.62 563.40,111.52 566.80,114.62 563.40,117.72" fill="#080"/>
<polygon points="560.00,311.74 563.40,308.64 566.80,311.74 563.40,314.84" fill="#080"/>
<rect x="553.6" y="7.7" width="105.4" height="312.5" fill="none" stroke="#000" stroke-width="1.4"/>
<line x1="563.4" y1="7.7" x2="563.4" y2="11.1" stroke="#000" stroke-width="1.2"/>
<line x1="563.4" y1="320.2" x2="563.4" y2="316.8" stroke="#000" stroke-width="1.2"/>
<line x1="610.8" y1="7.7" x2="610.8" y2="9.7" stroke="#000" stroke-width="1.2"/>
<line x1="610.8" y1="320.2" x2="610.8" y2="318.2" stroke="#000" stroke-width="1.2"/>
<line x1="553.6" y1="96.9" x2="557.0" y2="96.9" stroke="#000" stroke-width="1.2"/>
<line x1="659.0" y1="96.9" x2="655.6" y2="96.9" stroke="#000" stroke-width="1.2"/>
<line x1="553.6" y1="186.3" x2="555.8000000000001" y2="186.3" stroke="#000" stroke-width="1.2"/>
<line x1="659.0" y1="186.3" x2="656.8" y2="186.3" stroke="#000" stroke-width="1.2"/>
<line x1="553.6" y1="275.7" x2="557.0" y2="275.7" stroke="#000" stroke-width="1.2"/>
<line x1="659.0" y1="275.7" x2="655.6" y2="275.7" stroke="#000" stroke-width="1.2"/>
<text x="662.70" y="100.00" font-size="12" text-anchor="start" >0.4</text>
<text x="662.90" y="279.20" font-size="12" text-anchor="start" >0.8</text>
<line x1="599.3" y1="152.5" x2="619.1" y2="152.5" stroke="#000" stroke-width="1"/>
<line x1="599.3" y1="163.5" x2="619.1" y2="163.5" stroke="#f00" stroke-width="1"/>
<line x1="599.3" y1="174.5" x2="619.1" y2="174.5" stroke="#00f" stroke-width="1"/>
<line x1="599.3" y1="196.5" x2="619.1" y2="196.5" stroke="#f0f" stroke-width="1"/>
<line x1="599.3" y1="207.5" x2="619.1" y2="207.5" stroke="#080" stroke-width="1"/>
<rect x="605" y="148.4" width="9" height="8.2" fill="#000"/>
<circle cx="609.2" cy="163.4" r="4.8" fill="#f00"/>
<polygon points="603.4,177.6 615,177.6 609.2,168.2" fill="#00f"/>
<polygon points="603.3,193.1 615.2,193.1 609.2,201.8" fill="#f0f"/>
<polygon points="603.3,207.75 609.3,202 615.3,207.75 609.3,213.5" fill="#080"/>
<text x="621.4" y="155.8" font-size="9.5" textLength="23.8" lengthAdjust="spacingAndGlyphs">&#931;(J=0)</text>
<text x="621.4" y="166.8" font-size="9.5" textLength="23.8" lengthAdjust="spacingAndGlyphs">&#931;(J=2)</text>
<text x="621.4" y="177.6" font-size="9.5" textLength="23.8" lengthAdjust="spacingAndGlyphs">&#931;(J=3)</text>
<text x="621.4" y="199.8" font-size="9.5" textLength="23.8" lengthAdjust="spacingAndGlyphs">&#928;(J=2)</text>
<text x="621.4" y="210.9" font-size="9.5" textLength="23.8" lengthAdjust="spacingAndGlyphs">&#928;(J=3)</text>
</svg>
</body></html>
